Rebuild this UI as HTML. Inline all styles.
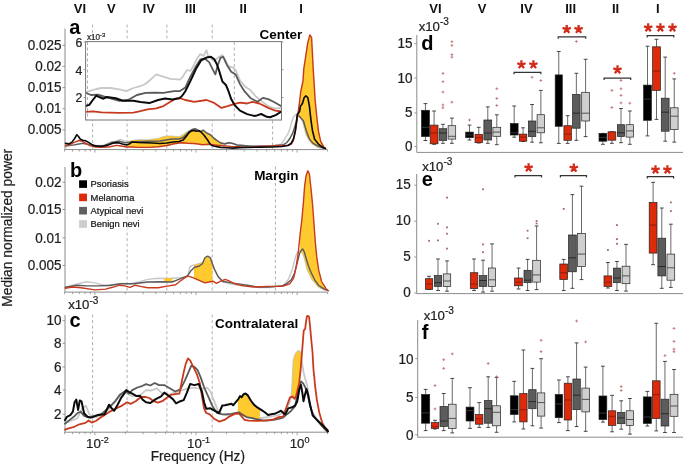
<!DOCTYPE html>
<html><head><meta charset="utf-8"><style>
html,body{margin:0;padding:0;background:#fff;}
svg{display:block;font-family:"Liberation Sans", sans-serif;will-change:transform;}
text{stroke:#1e1e1e;stroke-width:0.22px;}
text[font-weight=bold]{stroke:none;}
</style></head><body>
<svg width="685" height="465" viewBox="0 0 685 465">
<defs><clipPath id="insetclip"><rect x="86.1" y="42.1" width="195" height="77.4"/></clipPath></defs>
<rect width="685" height="465" fill="#fff"/>
<text transform="translate(80.00,12.70) scale(1,1.03)" font-size="13" text-anchor="middle" font-weight="bold" fill="#111" >VI</text>
<text transform="translate(111.30,12.70) scale(1,1.03)" font-size="13" text-anchor="middle" font-weight="bold" fill="#111" >V</text>
<text transform="translate(148.90,12.70) scale(1,1.03)" font-size="13" text-anchor="middle" font-weight="bold" fill="#111" >IV</text>
<text transform="translate(190.50,12.70) scale(1,1.03)" font-size="13" text-anchor="middle" font-weight="bold" fill="#111" >III</text>
<text transform="translate(243.20,12.70) scale(1,1.03)" font-size="13" text-anchor="middle" font-weight="bold" fill="#111" >II</text>
<text transform="translate(301.00,12.70) scale(1,1.03)" font-size="13" text-anchor="middle" font-weight="bold" fill="#111" >I</text>
<text transform="translate(435.50,12.70) scale(1,1.03)" font-size="13" text-anchor="middle" font-weight="bold" fill="#111" >VI</text>
<text transform="translate(482.00,12.70) scale(1,1.03)" font-size="13" text-anchor="middle" font-weight="bold" fill="#111" >V</text>
<text transform="translate(526.50,12.70) scale(1,1.03)" font-size="13" text-anchor="middle" font-weight="bold" fill="#111" >IV</text>
<text transform="translate(570.60,12.70) scale(1,1.03)" font-size="13" text-anchor="middle" font-weight="bold" fill="#111" >III</text>
<text transform="translate(615.50,12.70) scale(1,1.03)" font-size="13" text-anchor="middle" font-weight="bold" fill="#111" >II</text>
<text transform="translate(657.90,12.70) scale(1,1.03)" font-size="13" text-anchor="middle" font-weight="bold" fill="#111" >I</text>
<line x1="64.50" y1="149.60" x2="327.60" y2="149.60" stroke="#8c8c8c" stroke-width="1" />
<line x1="64.50" y1="149.60" x2="64.50" y2="151.60" stroke="#8c8c8c" stroke-width="0.8" />
<line x1="72.50" y1="149.60" x2="72.50" y2="151.60" stroke="#8c8c8c" stroke-width="0.8" />
<line x1="79.27" y1="149.60" x2="79.27" y2="151.60" stroke="#8c8c8c" stroke-width="0.8" />
<line x1="85.13" y1="149.60" x2="85.13" y2="151.60" stroke="#8c8c8c" stroke-width="0.8" />
<line x1="90.31" y1="149.60" x2="90.31" y2="151.60" stroke="#8c8c8c" stroke-width="0.8" />
<line x1="94.93" y1="149.60" x2="94.93" y2="152.60" stroke="#8c8c8c" stroke-width="0.8" />
<line x1="125.37" y1="149.60" x2="125.37" y2="151.60" stroke="#8c8c8c" stroke-width="0.8" />
<line x1="143.17" y1="149.60" x2="143.17" y2="151.60" stroke="#8c8c8c" stroke-width="0.8" />
<line x1="155.80" y1="149.60" x2="155.80" y2="151.60" stroke="#8c8c8c" stroke-width="0.8" />
<line x1="165.60" y1="149.60" x2="165.60" y2="151.60" stroke="#8c8c8c" stroke-width="0.8" />
<line x1="173.60" y1="149.60" x2="173.60" y2="151.60" stroke="#8c8c8c" stroke-width="0.8" />
<line x1="180.37" y1="149.60" x2="180.37" y2="151.60" stroke="#8c8c8c" stroke-width="0.8" />
<line x1="186.23" y1="149.60" x2="186.23" y2="151.60" stroke="#8c8c8c" stroke-width="0.8" />
<line x1="191.41" y1="149.60" x2="191.41" y2="151.60" stroke="#8c8c8c" stroke-width="0.8" />
<line x1="196.03" y1="149.60" x2="196.03" y2="152.60" stroke="#8c8c8c" stroke-width="0.8" />
<line x1="226.47" y1="149.60" x2="226.47" y2="151.60" stroke="#8c8c8c" stroke-width="0.8" />
<line x1="244.27" y1="149.60" x2="244.27" y2="151.60" stroke="#8c8c8c" stroke-width="0.8" />
<line x1="256.90" y1="149.60" x2="256.90" y2="151.60" stroke="#8c8c8c" stroke-width="0.8" />
<line x1="266.70" y1="149.60" x2="266.70" y2="151.60" stroke="#8c8c8c" stroke-width="0.8" />
<line x1="274.70" y1="149.60" x2="274.70" y2="151.60" stroke="#8c8c8c" stroke-width="0.8" />
<line x1="281.47" y1="149.60" x2="281.47" y2="151.60" stroke="#8c8c8c" stroke-width="0.8" />
<line x1="287.33" y1="149.60" x2="287.33" y2="151.60" stroke="#8c8c8c" stroke-width="0.8" />
<line x1="292.51" y1="149.60" x2="292.51" y2="151.60" stroke="#8c8c8c" stroke-width="0.8" />
<line x1="297.13" y1="149.60" x2="297.13" y2="152.60" stroke="#8c8c8c" stroke-width="0.8" />
<line x1="327.57" y1="149.60" x2="327.57" y2="151.60" stroke="#8c8c8c" stroke-width="0.8" />
<line x1="92.60" y1="24.50" x2="92.60" y2="149.60" stroke="#a8a8a8" stroke-width="0.9" stroke-dasharray="3,2.5"/>
<line x1="127.10" y1="24.50" x2="127.10" y2="149.60" stroke="#a8a8a8" stroke-width="0.9" stroke-dasharray="3,2.5"/>
<line x1="166.90" y1="24.50" x2="166.90" y2="149.60" stroke="#a8a8a8" stroke-width="0.9" stroke-dasharray="3,2.5"/>
<line x1="212.20" y1="24.50" x2="212.20" y2="149.60" stroke="#a8a8a8" stroke-width="0.9" stroke-dasharray="3,2.5"/>
<line x1="272.60" y1="120.50" x2="272.60" y2="149.60" stroke="#a8a8a8" stroke-width="0.9" stroke-dasharray="3,2.5"/>
<line x1="65.00" y1="28.50" x2="65.00" y2="149.60" stroke="#8c8c8c" stroke-width="1" />
<line x1="62.50" y1="45.40" x2="65.00" y2="45.40" stroke="#8c8c8c" stroke-width="0.9" />
<text transform="translate(61.50,50.00) scale(1,1.07)" font-size="13.5" text-anchor="end" font-weight="normal" fill="#1e1e1e" >0.025</text>
<line x1="62.50" y1="66.30" x2="65.00" y2="66.30" stroke="#8c8c8c" stroke-width="0.9" />
<text transform="translate(61.50,70.90) scale(1,1.07)" font-size="13.5" text-anchor="end" font-weight="normal" fill="#1e1e1e" >0.02</text>
<line x1="62.50" y1="87.60" x2="65.00" y2="87.60" stroke="#8c8c8c" stroke-width="0.9" />
<text transform="translate(61.50,92.20) scale(1,1.07)" font-size="13.5" text-anchor="end" font-weight="normal" fill="#1e1e1e" >0.015</text>
<line x1="62.50" y1="108.70" x2="65.00" y2="108.70" stroke="#8c8c8c" stroke-width="0.9" />
<text transform="translate(61.50,113.30) scale(1,1.07)" font-size="13.5" text-anchor="end" font-weight="normal" fill="#1e1e1e" >0.01</text>
<line x1="62.50" y1="129.80" x2="65.00" y2="129.80" stroke="#8c8c8c" stroke-width="0.9" />
<text transform="translate(61.50,134.40) scale(1,1.07)" font-size="13.5" text-anchor="end" font-weight="normal" fill="#1e1e1e" >0.005</text>
<line x1="64.50" y1="292.10" x2="327.60" y2="292.10" stroke="#8c8c8c" stroke-width="1" />
<line x1="64.50" y1="292.10" x2="64.50" y2="294.10" stroke="#8c8c8c" stroke-width="0.8" />
<line x1="72.50" y1="292.10" x2="72.50" y2="294.10" stroke="#8c8c8c" stroke-width="0.8" />
<line x1="79.27" y1="292.10" x2="79.27" y2="294.10" stroke="#8c8c8c" stroke-width="0.8" />
<line x1="85.13" y1="292.10" x2="85.13" y2="294.10" stroke="#8c8c8c" stroke-width="0.8" />
<line x1="90.31" y1="292.10" x2="90.31" y2="294.10" stroke="#8c8c8c" stroke-width="0.8" />
<line x1="94.93" y1="292.10" x2="94.93" y2="295.10" stroke="#8c8c8c" stroke-width="0.8" />
<line x1="125.37" y1="292.10" x2="125.37" y2="294.10" stroke="#8c8c8c" stroke-width="0.8" />
<line x1="143.17" y1="292.10" x2="143.17" y2="294.10" stroke="#8c8c8c" stroke-width="0.8" />
<line x1="155.80" y1="292.10" x2="155.80" y2="294.10" stroke="#8c8c8c" stroke-width="0.8" />
<line x1="165.60" y1="292.10" x2="165.60" y2="294.10" stroke="#8c8c8c" stroke-width="0.8" />
<line x1="173.60" y1="292.10" x2="173.60" y2="294.10" stroke="#8c8c8c" stroke-width="0.8" />
<line x1="180.37" y1="292.10" x2="180.37" y2="294.10" stroke="#8c8c8c" stroke-width="0.8" />
<line x1="186.23" y1="292.10" x2="186.23" y2="294.10" stroke="#8c8c8c" stroke-width="0.8" />
<line x1="191.41" y1="292.10" x2="191.41" y2="294.10" stroke="#8c8c8c" stroke-width="0.8" />
<line x1="196.03" y1="292.10" x2="196.03" y2="295.10" stroke="#8c8c8c" stroke-width="0.8" />
<line x1="226.47" y1="292.10" x2="226.47" y2="294.10" stroke="#8c8c8c" stroke-width="0.8" />
<line x1="244.27" y1="292.10" x2="244.27" y2="294.10" stroke="#8c8c8c" stroke-width="0.8" />
<line x1="256.90" y1="292.10" x2="256.90" y2="294.10" stroke="#8c8c8c" stroke-width="0.8" />
<line x1="266.70" y1="292.10" x2="266.70" y2="294.10" stroke="#8c8c8c" stroke-width="0.8" />
<line x1="274.70" y1="292.10" x2="274.70" y2="294.10" stroke="#8c8c8c" stroke-width="0.8" />
<line x1="281.47" y1="292.10" x2="281.47" y2="294.10" stroke="#8c8c8c" stroke-width="0.8" />
<line x1="287.33" y1="292.10" x2="287.33" y2="294.10" stroke="#8c8c8c" stroke-width="0.8" />
<line x1="292.51" y1="292.10" x2="292.51" y2="294.10" stroke="#8c8c8c" stroke-width="0.8" />
<line x1="297.13" y1="292.10" x2="297.13" y2="295.10" stroke="#8c8c8c" stroke-width="0.8" />
<line x1="327.57" y1="292.10" x2="327.57" y2="294.10" stroke="#8c8c8c" stroke-width="0.8" />
<line x1="127.10" y1="166.50" x2="127.10" y2="292.10" stroke="#a8a8a8" stroke-width="0.9" stroke-dasharray="3,2.5"/>
<line x1="166.90" y1="166.50" x2="166.90" y2="292.10" stroke="#a8a8a8" stroke-width="0.9" stroke-dasharray="3,2.5"/>
<line x1="212.20" y1="166.50" x2="212.20" y2="292.10" stroke="#a8a8a8" stroke-width="0.9" stroke-dasharray="3,2.5"/>
<line x1="275.40" y1="166.50" x2="275.40" y2="292.10" stroke="#a8a8a8" stroke-width="0.9" stroke-dasharray="3,2.5"/>
<line x1="65.00" y1="167.00" x2="65.00" y2="292.10" stroke="#8c8c8c" stroke-width="1" />
<line x1="62.50" y1="182.20" x2="65.00" y2="182.20" stroke="#8c8c8c" stroke-width="0.9" />
<text transform="translate(61.50,186.80) scale(1,1.07)" font-size="13.5" text-anchor="end" font-weight="normal" fill="#1e1e1e" >0.02</text>
<line x1="62.50" y1="209.50" x2="65.00" y2="209.50" stroke="#8c8c8c" stroke-width="0.9" />
<text transform="translate(61.50,214.10) scale(1,1.07)" font-size="13.5" text-anchor="end" font-weight="normal" fill="#1e1e1e" >0.015</text>
<line x1="62.50" y1="237.90" x2="65.00" y2="237.90" stroke="#8c8c8c" stroke-width="0.9" />
<text transform="translate(61.50,242.50) scale(1,1.07)" font-size="13.5" text-anchor="end" font-weight="normal" fill="#1e1e1e" >0.01</text>
<line x1="62.50" y1="265.40" x2="65.00" y2="265.40" stroke="#8c8c8c" stroke-width="0.9" />
<text transform="translate(61.50,270.00) scale(1,1.07)" font-size="13.5" text-anchor="end" font-weight="normal" fill="#1e1e1e" >0.005</text>
<line x1="64.50" y1="432.20" x2="327.60" y2="432.20" stroke="#8c8c8c" stroke-width="1" />
<line x1="64.50" y1="432.20" x2="64.50" y2="434.20" stroke="#8c8c8c" stroke-width="0.8" />
<line x1="72.50" y1="432.20" x2="72.50" y2="434.20" stroke="#8c8c8c" stroke-width="0.8" />
<line x1="79.27" y1="432.20" x2="79.27" y2="434.20" stroke="#8c8c8c" stroke-width="0.8" />
<line x1="85.13" y1="432.20" x2="85.13" y2="434.20" stroke="#8c8c8c" stroke-width="0.8" />
<line x1="90.31" y1="432.20" x2="90.31" y2="434.20" stroke="#8c8c8c" stroke-width="0.8" />
<line x1="94.93" y1="432.20" x2="94.93" y2="435.20" stroke="#8c8c8c" stroke-width="0.8" />
<line x1="125.37" y1="432.20" x2="125.37" y2="434.20" stroke="#8c8c8c" stroke-width="0.8" />
<line x1="143.17" y1="432.20" x2="143.17" y2="434.20" stroke="#8c8c8c" stroke-width="0.8" />
<line x1="155.80" y1="432.20" x2="155.80" y2="434.20" stroke="#8c8c8c" stroke-width="0.8" />
<line x1="165.60" y1="432.20" x2="165.60" y2="434.20" stroke="#8c8c8c" stroke-width="0.8" />
<line x1="173.60" y1="432.20" x2="173.60" y2="434.20" stroke="#8c8c8c" stroke-width="0.8" />
<line x1="180.37" y1="432.20" x2="180.37" y2="434.20" stroke="#8c8c8c" stroke-width="0.8" />
<line x1="186.23" y1="432.20" x2="186.23" y2="434.20" stroke="#8c8c8c" stroke-width="0.8" />
<line x1="191.41" y1="432.20" x2="191.41" y2="434.20" stroke="#8c8c8c" stroke-width="0.8" />
<line x1="196.03" y1="432.20" x2="196.03" y2="435.20" stroke="#8c8c8c" stroke-width="0.8" />
<line x1="226.47" y1="432.20" x2="226.47" y2="434.20" stroke="#8c8c8c" stroke-width="0.8" />
<line x1="244.27" y1="432.20" x2="244.27" y2="434.20" stroke="#8c8c8c" stroke-width="0.8" />
<line x1="256.90" y1="432.20" x2="256.90" y2="434.20" stroke="#8c8c8c" stroke-width="0.8" />
<line x1="266.70" y1="432.20" x2="266.70" y2="434.20" stroke="#8c8c8c" stroke-width="0.8" />
<line x1="274.70" y1="432.20" x2="274.70" y2="434.20" stroke="#8c8c8c" stroke-width="0.8" />
<line x1="281.47" y1="432.20" x2="281.47" y2="434.20" stroke="#8c8c8c" stroke-width="0.8" />
<line x1="287.33" y1="432.20" x2="287.33" y2="434.20" stroke="#8c8c8c" stroke-width="0.8" />
<line x1="292.51" y1="432.20" x2="292.51" y2="434.20" stroke="#8c8c8c" stroke-width="0.8" />
<line x1="297.13" y1="432.20" x2="297.13" y2="435.20" stroke="#8c8c8c" stroke-width="0.8" />
<line x1="327.57" y1="432.20" x2="327.57" y2="434.20" stroke="#8c8c8c" stroke-width="0.8" />
<line x1="92.60" y1="314.60" x2="92.60" y2="432.20" stroke="#a8a8a8" stroke-width="0.9" stroke-dasharray="3,2.5"/>
<line x1="127.10" y1="314.60" x2="127.10" y2="432.20" stroke="#a8a8a8" stroke-width="0.9" stroke-dasharray="3,2.5"/>
<line x1="166.90" y1="314.60" x2="166.90" y2="432.20" stroke="#a8a8a8" stroke-width="0.9" stroke-dasharray="3,2.5"/>
<line x1="212.20" y1="314.60" x2="212.20" y2="432.20" stroke="#a8a8a8" stroke-width="0.9" stroke-dasharray="3,2.5"/>
<line x1="65.00" y1="315.00" x2="65.00" y2="432.20" stroke="#8c8c8c" stroke-width="1" />
<line x1="62.50" y1="320.70" x2="65.00" y2="320.70" stroke="#8c8c8c" stroke-width="0.9" />
<text transform="translate(61.50,325.30) scale(1,1.07)" font-size="13.5" text-anchor="end" font-weight="normal" fill="#1e1e1e" >10</text>
<line x1="62.50" y1="343.30" x2="65.00" y2="343.30" stroke="#8c8c8c" stroke-width="0.9" />
<text transform="translate(61.50,347.90) scale(1,1.07)" font-size="13.5" text-anchor="end" font-weight="normal" fill="#1e1e1e" >8</text>
<line x1="62.50" y1="367.00" x2="65.00" y2="367.00" stroke="#8c8c8c" stroke-width="0.9" />
<text transform="translate(61.50,371.60) scale(1,1.07)" font-size="13.5" text-anchor="end" font-weight="normal" fill="#1e1e1e" >6</text>
<line x1="62.50" y1="390.00" x2="65.00" y2="390.00" stroke="#8c8c8c" stroke-width="0.9" />
<text transform="translate(61.50,394.60) scale(1,1.07)" font-size="13.5" text-anchor="end" font-weight="normal" fill="#1e1e1e" >4</text>
<line x1="62.50" y1="414.20" x2="65.00" y2="414.20" stroke="#8c8c8c" stroke-width="0.9" />
<text transform="translate(61.50,418.80) scale(1,1.07)" font-size="13.5" text-anchor="end" font-weight="normal" fill="#1e1e1e" >2</text>
<text x="97.43" y="448.40" font-size="13.3" text-anchor="middle" fill="#1e1e1e">10<tspan font-size="9" dy="-5.3">-2</tspan></text>
<text x="198.53" y="448.40" font-size="13.3" text-anchor="middle" fill="#1e1e1e">10<tspan font-size="9" dy="-5.3">-1</tspan></text>
<text x="299.63" y="448.40" font-size="13.3" text-anchor="middle" fill="#1e1e1e">10<tspan font-size="9" dy="-5.3">0</tspan></text>
<text transform="translate(197.80,460.70) scale(1,1.03)" font-size="13.7" text-anchor="middle" font-weight="normal" fill="#1e1e1e" >Frequency (Hz)</text>
<text x="0" y="0" font-size="13.8" text-anchor="middle" fill="#1e1e1e" transform="translate(12.4,227.8) rotate(-90)">Median normalized power</text>
<text x="69.20" y="33.70" font-size="20" text-anchor="start" font-weight="bold" fill="#000" >a</text>
<text x="70.10" y="176.80" font-size="20" text-anchor="start" font-weight="bold" fill="#000" >b</text>
<text x="69.40" y="326.90" font-size="20" text-anchor="start" font-weight="bold" fill="#000" >c</text>
<text x="302.20" y="38.80" font-size="13.5" text-anchor="end" font-weight="bold" fill="#000" >Center</text>
<text x="298.40" y="179.90" font-size="13.5" text-anchor="end" font-weight="bold" fill="#000" >Margin</text>
<text x="298.30" y="327.80" font-size="13.5" text-anchor="end" font-weight="bold" fill="#000" >Contralateral</text>
<text x="68.20" y="309.40" font-size="13.2" fill="#1e1e1e">x10<tspan font-size="10" dy="-5.6">-3</tspan></text>
<rect x="76" y="177" width="76" height="54" fill="#fff" fill-opacity="0.55"/>
<rect x="79.1" y="180.30" width="7.9" height="7.6" fill="#000"/>
<text x="90.60" y="187.20" font-size="9.4" text-anchor="start" font-weight="normal" fill="#111" >Psoriasis</text>
<rect x="79.1" y="193.60" width="7.9" height="7.6" fill="#dc2a0a"/>
<text x="90.60" y="200.50" font-size="9.4" text-anchor="start" font-weight="normal" fill="#111" >Melanoma</text>
<rect x="79.1" y="206.90" width="7.9" height="7.6" fill="#5f5f5f"/>
<text x="90.60" y="213.80" font-size="9.4" text-anchor="start" font-weight="normal" fill="#111" >Atypical nevi</text>
<rect x="79.1" y="220.20" width="7.9" height="7.6" fill="#cdcdcd"/>
<text x="90.60" y="227.10" font-size="9.4" text-anchor="start" font-weight="normal" fill="#111" >Benign nevi</text>
<path d="M65.6,147.0 L72.2,145.4 L78.3,143.9 L84.5,142.9 L89.6,143.9 L95.7,145.4 L102.9,145.4 L107.0,143.9 L111.0,141.9 L116.2,141.3 L120.2,139.3 L125.4,141.3 L128.0,141.5 L136.2,139.9 L148.4,139.9 L158.7,138.4 L164.8,136.4 L170.9,136.1 L179.1,136.9 L183.2,134.8 L188.3,131.2 L192.4,129.2 L195.4,128.7 L197.7,130.2 L200.2,131.5 L203.3,130.0 L206.3,132.5 L210.4,134.5 L213.5,137.5 L216.6,140.0 L220.7,142.5 L224.7,143.5 L228.8,142.5 L232.9,143.5 L237.0,145.0 L243.1,145.5 L251.3,146.1 L270.0,146.0 L281.3,144.1 L284.6,139.1 L288.0,133.5 L290.2,127.9 L291.9,121.2 L293.6,116.8 L295.8,114.5 L298.0,114.0 L300.3,116.5 L302.5,121.0 L304.5,128.0 L306.2,134.8 L308.5,139.0 L311.8,143.6 L317.4,147.0 L322.0,148.2 L325.5,148.6" fill="none" stroke="#c8c8c8" stroke-width="1.4449999999999998" stroke-linejoin="round" stroke-linecap="round"/>
<path d="M65.3,287.7 L74.0,284.7 L86.3,281.7 L95.0,282.9 L103.8,285.2 L112.6,284.7 L121.3,283.4 L130.1,283.8 L138.8,282.0 L147.6,279.4 L158.1,278.2 L168.6,278.5 L180.0,277.7 L187.5,276.8 L190.1,266.3 L196.3,264.5 L203.3,262.4 L208.5,264.5 L212.9,266.3 L217.3,275.0 L222.6,282.0 L231.3,284.0 L240.0,285.5 L250.0,286.5 L260.0,287.5 L270.0,287.5 L280.0,286.0 L283.2,285.5 L288.1,279.8 L292.1,270.2 L295.3,257.3 L297.7,251.6 L300.5,251.0 L302.5,253.0 L304.2,257.3 L307.4,270.2 L312.3,279.8 L318.7,287.1 L323.5,289.5 L327.6,290.8" fill="none" stroke="#c8c8c8" stroke-width="1.4449999999999998" stroke-linejoin="round" stroke-linecap="round"/>
<path d="M65.0,422.8 L77.2,418.5 L82.4,408.2 L85.8,405.6 L89.3,414.2 L92.7,417.6 L101.3,415.9 L108.2,409.9 L116.8,399.6 L123.7,391.8 L132.3,396.1 L139.2,396.1 L146.0,390.1 L151.4,390.5 L156.8,388.3 L162.2,393.3 L168.6,394.8 L175.1,392.6 L181.5,390.5 L188.0,388.3 L194.4,387.7 L200.8,389.0 L207.3,387.7 L210.5,391.5 L213.7,400.1 L218.0,410.9 L222.3,414.7 L227.7,415.2 L235.0,414.1 L238.6,414.2 L247.2,416.3 L258.0,418.5 L268.7,417.0 L279.5,414.8 L286.0,410.0 L289.0,404.0 L291.3,397.0 L292.3,385.0 L293.0,370.0 L293.6,360.0 L295.5,354.0 L297.5,351.5 L298.8,350.8 L300.0,352.0 L301.0,356.0 L302.2,364.0 L303.5,372.0 L305.0,378.0 L307.1,385.1 L309.4,400.1 L311.6,410.7 L316.2,418.2 L322.2,425.8 L327.5,431.0" fill="none" stroke="#c8c8c8" stroke-width="1.785" stroke-linejoin="round" stroke-linecap="round"/>
<g opacity="0.92"><path d="M127.5,141.5 L128.0,141.5 L128.5,141.4 L129.0,141.3 L129.5,141.2 L130.0,141.1 L130.5,141.0 L131.0,140.9 L131.5,140.8 L132.0,140.7 L132.5,140.6 L133.0,140.5 L133.5,140.4 L134.0,140.3 L134.5,140.2 L135.0,140.1 L135.5,140.0 L136.0,139.9 L136.5,139.9 L137.0,139.9 L137.5,139.9 L138.0,139.9 L138.5,139.9 L139.0,139.9 L139.5,139.9 L140.0,139.9 L140.5,139.9 L141.0,139.9 L141.5,139.9 L142.0,139.9 L142.5,139.9 L143.0,139.9 L143.5,139.9 L144.0,139.9 L144.5,139.9 L145.0,139.9 L145.5,139.9 L146.0,139.9 L146.5,139.9 L147.0,139.9 L147.5,139.9 L148.0,139.9 L148.5,139.9 L149.0,139.8 L149.5,139.7 L150.0,139.7 L150.5,139.6 L151.0,139.5 L151.5,139.4 L152.0,139.4 L152.5,139.3 L153.0,139.2 L153.5,139.2 L154.0,139.1 L154.5,139.0 L155.0,138.9 L155.5,138.9 L156.0,138.8 L156.5,138.7 L157.0,138.6 L157.5,138.6 L158.0,138.5 L158.5,138.4 L159.0,138.3 L159.5,138.1 L160.0,138.0 L160.5,137.8 L161.0,137.6 L161.5,137.5 L162.0,137.3 L162.5,137.2 L163.0,137.0 L163.5,136.8 L164.0,136.7 L164.5,136.5 L165.0,136.4 L165.5,136.4 L166.0,136.3 L166.5,136.3 L167.0,136.3 L167.5,136.3 L168.0,136.2 L168.5,136.2 L169.0,136.2 L169.5,136.2 L170.0,136.1 L170.5,136.1 L171.0,136.1 L171.5,136.2 L172.0,136.2 L172.5,136.3 L173.0,136.3 L173.5,136.4 L174.0,136.4 L174.5,136.5 L175.0,136.5 L175.5,136.5 L176.0,136.6 L176.5,136.6 L177.0,136.7 L177.5,136.7 L178.0,136.8 L178.5,136.8 L179.0,136.9 L179.5,136.7 L180.0,136.4 L180.5,136.2 L181.0,135.9 L181.5,135.7 L182.0,135.4 L182.5,135.2 L183.0,134.9 L183.5,134.6 L184.0,134.2 L184.5,133.9 L185.0,133.5 L185.5,133.2 L186.0,132.8 L186.5,132.5 L187.0,132.1 L187.5,131.8 L188.0,131.4 L188.5,131.1 L189.0,130.9 L189.5,130.6 L190.0,130.4 L190.5,130.1 L191.0,129.9 L191.5,129.6 L192.0,129.4 L192.5,129.2 L193.0,129.1 L193.5,129.0 L194.0,128.9 L194.5,128.8 L195.0,128.7 L195.5,128.8 L196.0,129.1 L196.5,129.4 L197.0,129.7 L197.5,130.1 L198.0,130.4 L198.5,130.6 L199.0,130.9 L199.5,131.1 L200.0,131.4 L200.5,131.4 L201.0,131.1 L201.5,130.9 L202.0,130.6 L202.5,130.4 L203.0,130.1 L203.5,130.2 L204.0,130.6 L204.5,131.0 L205.0,131.4 L205.5,131.8 L206.0,132.2 L206.5,132.6 L207.0,132.8 L207.5,133.1 L208.0,133.3 L208.5,133.6 L209.0,133.8 L209.5,134.1 L210.0,134.3 L210.5,134.6 L211.0,135.1 L211.5,135.6 L212.0,136.0 L212.5,136.5 L213.0,137.0 L213.5,137.5 L214.0,137.9 L214.5,138.3 L215.0,138.7 L215.5,139.1 L216.0,139.5 L216.5,139.9 L217.0,140.2 L217.5,140.5 L218.0,140.9 L218.5,141.2 L219.0,141.5 L219.5,141.8 L220.0,142.1 L220.5,142.4 L221.0,142.6 L221.5,142.7 L222.0,142.8 L222.0,145.7 L221.5,145.6 L221.0,145.6 L220.5,145.5 L220.0,145.5 L219.5,145.5 L219.0,145.4 L218.5,145.4 L218.0,145.3 L217.5,145.3 L217.0,145.2 L216.5,145.2 L216.0,145.1 L215.5,145.1 L215.0,145.0 L214.5,144.9 L214.0,144.9 L213.5,144.8 L213.0,144.8 L212.5,144.7 L212.0,144.7 L211.5,144.6 L211.0,144.6 L210.5,144.5 L210.0,144.5 L209.5,144.4 L209.0,144.4 L208.5,144.3 L208.0,144.3 L207.5,144.4 L207.0,144.4 L206.5,144.4 L206.0,144.5 L205.5,144.5 L205.0,144.5 L204.5,144.6 L204.0,144.6 L203.5,144.6 L203.0,144.7 L202.5,144.7 L202.0,144.6 L201.5,144.6 L201.0,144.5 L200.5,144.4 L200.0,144.3 L199.5,144.2 L199.0,144.1 L198.5,144.1 L198.0,144.0 L197.5,143.9 L197.0,143.9 L196.5,143.8 L196.0,143.8 L195.5,143.7 L195.0,143.7 L194.5,143.6 L194.0,143.6 L193.5,143.5 L193.0,143.5 L192.5,143.5 L192.0,143.5 L191.5,143.4 L191.0,143.4 L190.5,143.4 L190.0,143.4 L189.5,143.4 L189.0,143.4 L188.5,143.3 L188.0,143.3 L187.5,143.3 L187.0,143.3 L186.5,143.2 L186.0,143.1 L185.5,143.0 L185.0,143.0 L184.5,142.9 L184.0,142.8 L183.5,142.7 L183.0,142.7 L182.5,142.8 L182.0,142.8 L181.5,142.8 L181.0,142.9 L180.5,142.9 L180.0,142.9 L179.5,143.0 L179.0,143.0 L178.5,143.1 L178.0,143.2 L177.5,143.3 L177.0,143.3 L176.5,143.4 L176.0,143.5 L175.5,143.6 L175.0,143.7 L174.5,143.8 L174.0,143.8 L173.5,143.9 L173.0,144.0 L172.5,144.1 L172.0,144.2 L171.5,144.4 L171.0,144.5 L170.5,144.6 L170.0,144.7 L169.5,144.8 L169.0,145.0 L168.5,145.1 L168.0,145.2 L167.5,145.3 L167.0,145.5 L166.5,145.5 L166.0,145.6 L165.5,145.7 L165.0,145.8 L164.5,145.9 L164.0,145.9 L163.5,146.0 L163.0,146.1 L162.5,146.2 L162.0,146.3 L161.5,146.4 L161.0,146.4 L160.5,146.5 L160.0,146.6 L159.5,146.7 L159.0,146.8 L158.5,146.8 L158.0,146.8 L157.5,146.9 L157.0,146.9 L156.5,146.9 L156.0,147.0 L155.5,147.0 L155.0,147.0 L154.5,147.0 L154.0,147.1 L153.5,147.1 L153.0,147.1 L152.5,147.2 L152.0,147.2 L151.5,147.2 L151.0,147.2 L150.5,147.3 L150.0,147.3 L149.5,147.3 L149.0,147.4 L148.5,147.4 L148.0,147.4 L147.5,147.4 L147.0,147.4 L146.5,147.4 L146.0,147.4 L145.5,147.4 L145.0,147.4 L144.5,147.4 L144.0,147.4 L143.5,147.4 L143.0,147.4 L142.5,147.4 L142.0,147.4 L141.5,147.4 L141.0,147.4 L140.5,147.4 L140.0,147.4 L139.5,147.4 L139.0,147.4 L138.5,147.4 L138.0,147.4 L137.5,147.4 L137.0,147.3 L136.5,147.3 L136.0,147.3 L135.5,147.2 L135.0,147.2 L134.5,147.2 L134.0,147.1 L133.5,147.1 L133.0,147.1 L132.5,147.0 L132.0,147.0 L131.5,147.0 L131.0,147.0 L130.5,147.0 L130.0,147.0 L129.5,147.0 L129.0,147.0 L128.5,147.0 L128.0,147.0 L127.5,147.0 Z" fill="#ffc51f" stroke="none"/><path d="M298.0,113.4 L299.0,106.0 L299.8,100.0 L300.6,92.5 L301.5,88.0 L302.9,81.5 L303.8,68.7 L305.8,55.8 L307.7,42.9 L309.9,34.9 L311.6,37.7 L312.2,49.3 L313.2,68.7 L314.3,86.0 L315.1,100.0 L316.8,116.8 L318.5,131.3 L320.7,141.4 L323.5,146.4 L325.5,148.4 L325.5,148.6 L322.0,148.2 L317.4,147.0 L311.8,143.6 L308.5,139.0 L306.2,134.8 L304.5,128.0 L302.5,121.0 L300.3,116.5 L298.0,114.0 Z" fill="#ffc51f" stroke="none"/><path d="M194.0,265.2 L194.5,265.0 L195.0,264.9 L195.5,264.7 L196.0,264.6 L196.5,264.4 L197.0,264.3 L197.5,264.1 L198.0,264.0 L198.5,263.8 L199.0,263.7 L199.5,263.5 L200.0,263.4 L200.5,263.2 L201.0,263.1 L201.5,262.9 L202.0,262.8 L202.5,262.6 L203.0,262.3 L203.5,261.1 L204.0,259.9 L204.5,258.7 L205.0,257.5 L205.5,257.2 L206.0,257.0 L206.5,256.7 L207.0,256.5 L207.5,256.2 L208.0,256.3 L208.5,256.5 L209.0,256.8 L209.5,257.1 L210.0,257.3 L210.5,258.1 L211.0,259.7 L211.5,261.2 L212.0,262.8 L212.5,264.1 L212.5,281.3 L212.0,281.4 L211.5,281.5 L211.0,281.6 L210.5,281.7 L210.0,281.8 L209.5,281.9 L209.0,282.0 L208.5,282.1 L208.0,282.2 L207.5,282.3 L207.0,282.4 L206.5,282.6 L206.0,282.7 L205.5,282.8 L205.0,282.9 L204.5,282.7 L204.0,282.5 L203.5,282.3 L203.0,282.0 L202.5,281.8 L202.0,281.6 L201.5,281.4 L201.0,281.2 L200.5,281.0 L200.0,280.8 L199.5,280.5 L199.0,280.3 L198.5,280.1 L198.0,279.9 L197.5,279.7 L197.0,279.5 L196.5,279.3 L196.0,279.1 L195.5,278.8 L195.0,278.6 L194.5,278.4 L194.0,278.2 Z" fill="#ffc51f" stroke="none"/><path d="M164.2,278.3 L172.5,277.9 L172.5,282.2 L164.2,281.6 Z" fill="#ffc51f" stroke="none"/><path d="M299.4,241.1 L300.6,230.0 L301.6,222.2 L303.4,202.6 L304.6,186.1 L306.1,175.5 L307.9,170.7 L309.4,174.0 L310.9,187.6 L312.4,202.6 L313.9,222.2 L315.2,241.1 L316.8,257.3 L318.7,270.2 L321.6,281.5 L326.0,288.7 L328.4,290.8 L327.6,290.8 L323.5,289.5 L318.7,287.1 L312.3,279.8 L307.4,270.2 L304.2,257.3 L302.5,253.0 L300.5,251.0 Z" fill="#ffc51f" stroke="none"/><path d="M237.9,399.3 L238.5,398.8 L240.1,396.1 L241.7,397.2 L243.3,394.5 L245.5,393.5 L247.6,395.1 L250.8,400.5 L254.1,404.8 L257.3,407.4 L260.0,409.7 L260.0,419.6 L257.3,419.3 L251.9,418.2 L246.5,417.1 L242.2,414.4 L239.0,412.3 L237.9,412.5 Z" fill="#ffc51f" stroke="none"/><path d="M291.6,396.0 L292.3,385.0 L293.0,370.0 L293.6,360.0 L295.5,354.0 L297.5,351.5 L298.8,350.8 L300.0,352.0 L301.8,355.0 L300.6,370.2 L299.1,383.7 L297.6,389.8 L296.1,395.8 L294.6,398.8 Z" fill="#ffc51f" stroke="none"/></g>
<path d="M65.6,145.4 L74.3,144.9 L82.4,143.4 L90.6,144.9 L97.8,146.0 L104.9,145.4 L112.1,142.4 L119.2,141.3 L125.4,142.9 L132.0,141.9 L140.0,141.5 L150.0,141.3 L160.0,141.0 L166.0,140.0 L172.0,139.0 L179.0,139.0 L183.0,137.5 L186.2,134.5 L189.3,131.5 L192.0,129.7 L195.1,128.7 L197.7,130.2 L200.2,131.8 L203.3,130.2 L206.3,132.8 L210.4,134.8 L213.5,137.9 L216.6,140.4 L220.7,143.0 L224.7,144.0 L228.8,142.7 L232.9,143.5 L237.0,145.0 L243.1,145.5 L251.3,146.1 L260.0,146.1 L272.0,146.0 L283.5,144.7 L286.9,142.5 L290.2,138.0 L293.0,132.4 L294.7,126.8 L296.9,120.1 L297.6,115.1 L299.5,116.5 L301.2,118.5 L303.4,120.7 L305.1,126.8 L307.3,133.6 L309.5,139.1 L312.9,143.1 L317.4,145.9 L321.8,147.5 L325.5,148.4" fill="none" stroke="#5a5a5a" stroke-width="1.4449999999999998" stroke-linejoin="round" stroke-linecap="round"/>
<path d="M65.6,146.0 L70.2,144.4 L74.3,142.4 L78.9,140.5 L82.4,141.3 L86.5,143.9 L90.6,145.9 L95.7,147.0 L102.9,147.3 L110.0,146.7 L116.2,145.4 L121.3,146.0 L126.4,147.0 L132.0,147.0 L138.2,147.4 L148.4,147.4 L158.7,146.8 L166.8,145.5 L173.0,144.0 L179.1,143.0 L183.2,142.7 L187.3,143.3 L193.4,143.5 L198.2,144.0 L202.3,144.7 L208.4,144.3 L212.5,144.7 L217.6,145.3 L223.7,145.8 L230.9,146.4 L238.0,146.8 L246.2,147.4 L261.2,146.4 L272.3,146.0 L281.3,145.6 L288.0,145.3 L291.3,144.1 L293.0,141.3 L294.1,136.9 L295.3,131.3 L296.4,124.6 L297.2,119.0 L298.0,113.4 L299.0,106.0 L299.8,100.0 L300.6,92.5 L301.5,88.0 L302.9,81.5 L303.8,68.7 L305.8,55.8 L307.7,42.9 L309.9,34.9 L311.6,37.7 L312.2,49.3 L313.2,68.7 L314.3,86.0 L315.1,100.0 L316.8,116.8 L318.5,131.3 L320.7,141.4 L323.5,146.4 L325.5,148.4" fill="none" stroke="#c83a1e" stroke-width="1.4449999999999998" stroke-linejoin="round" stroke-linecap="round"/>
<path d="M65.6,143.4 L69.2,143.9 L72.2,141.9 L74.8,138.3 L76.8,134.7 L78.3,136.2 L80.4,139.3 L82.9,140.3 L85.5,140.8 L88.6,142.4 L91.6,144.4 L94.7,145.9 L100.8,146.5 L107.0,145.4 L112.1,143.4 L116.2,142.6 L119.2,142.9 L123.3,144.2 L126.4,144.9 L129.4,143.9 L132.1,142.0 L138.2,142.5 L145.4,142.7 L152.5,143.0 L159.7,143.5 L166.8,143.0 L173.0,142.0 L179.1,141.5 L183.2,139.9 L186.2,136.4 L189.3,132.3 L191.9,130.7 L194.1,130.4 L196.1,131.2 L199.2,130.6 L201.5,132.5 L203.9,135.0 L205.5,137.2 L207.6,140.0 L209.4,143.0 L211.5,145.2 L214.5,146.3 L220.7,147.4 L226.8,147.8 L232.9,148.1 L239.0,147.6 L246.2,147.4 L260.0,147.1 L272.0,147.0 L282.0,146.5 L288.0,145.5 L291.0,143.5 L293.5,139.0 L295.5,130.0 L296.5,121.0 L297.3,114.4 L299.6,111.4 L300.5,106.0 L301.8,104.5 L302.6,103.0 L304.1,97.8 L305.9,95.8 L307.9,97.8 L309.4,106.1 L310.9,119.6 L312.4,130.2 L314.6,139.2 L319.0,144.7 L323.0,147.5 L325.3,148.4" fill="none" stroke="#0a0a0a" stroke-width="1.615" stroke-linejoin="round" stroke-linecap="round"/>
<path d="M65.3,287.3 L77.5,285.2 L86.3,285.9 L98.5,285.9 L109.0,285.5 L121.3,283.8 L133.6,283.8 L147.6,282.0 L161.6,281.7 L172.1,282.0 L178.8,279.4 L187.5,275.9 L191.0,270.7 L194.5,267.2 L198.9,266.3 L202.4,263.7 L205.0,257.5 L207.7,256.1 L210.3,257.5 L212.0,262.8 L214.7,269.8 L218.2,276.8 L222.6,281.2 L231.3,282.9 L240.1,284.1 L248.8,285.5 L257.6,287.0 L268.1,287.0 L282.1,285.9 L286.5,283.9 L291.3,279.8 L294.5,273.4 L297.4,262.1 L299.4,254.0 L301.0,250.5 L302.6,248.9 L304.2,251.6 L305.8,257.3 L308.2,265.3 L311.5,273.4 L314.7,279.8 L318.7,285.5 L323.5,288.7 L327.6,290.3" fill="none" stroke="#5a5a5a" stroke-width="1.394" stroke-linejoin="round" stroke-linecap="round"/>
<path d="M65.3,288.2 L72.3,287.0 L81.0,287.7 L95.0,289.9 L105.5,289.1 L112.6,287.3 L119.6,285.2 L124.8,285.9 L130.1,287.3 L135.3,285.2 L140.6,286.4 L147.6,287.7 L158.1,287.7 L168.6,285.9 L175.6,284.7 L180.0,281.2 L187.5,275.9 L192.8,277.7 L198.0,279.9 L205.0,282.9 L210.3,281.7 L212.9,281.2 L216.4,283.4 L220.8,281.2 L225.2,279.4 L229.6,281.2 L234.8,283.8 L243.6,285.9 L254.1,287.0 L268.1,286.4 L280.0,286.3 L283.2,286.0 L289.7,283.9 L293.7,278.2 L296.1,266.9 L298.1,254.0 L299.4,241.1 L300.6,230.0 L301.6,222.2 L303.4,202.6 L304.6,186.1 L306.1,175.5 L307.9,170.7 L309.4,174.0 L310.9,187.6 L312.4,202.6 L313.9,222.2 L315.2,241.1 L316.8,257.3 L318.7,270.2 L321.6,281.5 L326.0,288.7 L328.4,290.8" fill="none" stroke="#c83a1e" stroke-width="1.394" stroke-linejoin="round" stroke-linecap="round"/>
<path d="M65.0,423.7 L70.3,419.4 L73.8,416.8 L77.2,413.3 L80.7,411.6 L84.1,415.9 L89.3,417.6 L94.4,415.9 L101.3,414.2 L108.2,408.2 L115.1,401.3 L120.2,394.4 L125.4,391.0 L128.8,393.6 L132.3,390.1 L137.4,387.5 L142.6,385.8 L146.0,384.1 L150.4,385.5 L154.7,383.0 L159.0,385.1 L164.3,385.1 L169.7,388.3 L175.1,391.5 L180.4,389.4 L184.7,380.8 L188.0,373.3 L191.2,365.8 L194.4,366.8 L197.6,370.1 L200.8,377.6 L204.1,387.3 L208.4,396.9 L212.7,406.6 L217.0,413.0 L221.2,414.1 L225.0,414.4 L231.5,413.9 L235.8,412.8 L239.0,412.3 L242.2,414.4 L246.5,417.1 L251.9,418.2 L257.3,419.3 L262.7,420.4 L268.1,420.4 L273.4,419.8 L278.8,418.8 L283.1,417.7 L287.0,414.2 L291.0,411.0 L295.1,406.2 L298.1,391.1 L301.1,381.3 L303.4,383.6 L305.6,388.1 L307.9,395.6 L310.1,406.2 L313.2,415.2 L317.7,421.2 L323.7,428.0 L327.5,431.8" fill="none" stroke="#5a5a5a" stroke-width="1.785" stroke-linejoin="round" stroke-linecap="round"/>
<path d="M65.0,429.7 L68.6,428.3 L73.3,427.2 L79.4,424.3 L85.5,422.9 L88.6,420.5 L91.7,422.6 L95.8,421.0 L99.6,418.2 L104.7,415.1 L109.9,411.6 L115.1,409.0 L122.0,405.6 L127.1,402.2 L130.6,403.9 L135.7,401.3 L140.9,397.0 L145.0,396.9 L149.3,398.0 L153.6,401.2 L157.9,402.7 L162.2,401.2 L166.5,398.0 L170.8,394.8 L175.1,394.1 L179.4,393.7 L181.5,383.0 L183.7,372.2 L185.8,363.6 L188.0,358.3 L190.1,360.4 L193.3,366.8 L196.5,373.3 L199.8,383.0 L201.9,395.8 L204.1,408.7 L206.2,413.0 L209.4,414.1 L213.7,418.4 L219.1,421.6 L224.5,419.9 L229.3,416.6 L233.6,414.4 L236.8,413.4 L239.5,413.9 L242.2,417.1 L244.4,419.8 L248.7,420.7 L257.3,420.9 L265.9,420.7 L273.4,419.3 L278.8,417.1 L283.1,416.6 L284.5,413.0 L286.3,407.8 L287.8,403.3 L290.0,397.3 L292.3,396.5 L294.6,398.8 L296.1,395.8 L297.6,389.8 L299.1,383.7 L300.6,370.2 L301.8,355.0 L302.4,347.8 L303.1,338.0 L303.8,330.3 L305.2,328.9 L305.9,322.6 L306.9,316.3 L308.0,315.9 L309.1,317.0 L310.1,326.8 L311.1,338.0 L312.5,352.0 L313.5,370.0 L314.3,377.0 L315.0,385.1 L316.9,400.1 L319.2,412.2 L322.2,422.7 L325.2,428.0 L327.9,430.3" fill="none" stroke="#c83a1e" stroke-width="1.785" stroke-linejoin="round" stroke-linecap="round"/>
<path d="M65.0,420.2 L66.9,416.8 L70.3,415.1 L72.9,411.6 L74.6,402.2 L76.3,399.6 L78.1,409.9 L79.8,400.4 L81.5,401.3 L84.1,413.3 L87.5,416.8 L91.0,417.6 L97.9,415.1 L104.7,414.2 L109.0,404.7 L111.6,408.2 L114.2,410.8 L117.6,404.7 L121.1,397.9 L123.7,394.4 L126.3,390.1 L128.8,391.8 L132.3,393.6 L136.6,396.1 L140.0,395.8 L142.6,399.6 L146.0,402.2 L150.4,403.0 L155.7,399.1 L161.1,396.3 L164.3,392.6 L168.6,395.8 L172.9,399.1 L176.1,403.4 L180.4,401.2 L183.7,400.1 L186.9,392.6 L190.1,384.0 L194.4,385.1 L198.7,384.0 L201.9,391.5 L204.1,402.3 L206.2,408.7 L210.5,408.3 L214.8,410.9 L219.1,413.0 L222.3,405.5 L225.0,405.3 L231.5,403.7 L233.1,405.3 L235.8,402.1 L238.5,398.8 L240.1,396.1 L241.7,397.2 L243.3,394.5 L245.5,393.5 L247.6,395.1 L250.8,400.5 L254.1,404.8 L257.3,407.4 L261.6,410.1 L264.8,412.3 L268.1,415.0 L271.3,414.2 L275.6,413.4 L278.8,411.8 L281.0,410.7 L283.1,412.8 L285.3,414.4 L288.2,408.4 L292.2,407.3 L295.3,405.3 L297.3,401.2 L299.4,389.0 L301.0,384.9 L302.4,393.1 L303.5,401.2 L304.9,395.1 L306.5,389.0 L308.2,395.1 L310.2,405.3 L312.7,415.5 L315.7,418.6 L318.8,421.6 L322.9,425.7 L326.9,429.8 L327.9,431.5" fill="none" stroke="#0a0a0a" stroke-width="1.9949999999999999" stroke-linejoin="round" stroke-linecap="round"/>
<rect x="85.6" y="41.6" width="195.9" height="78.4" fill="#fff" stroke="#777" stroke-width="1"/>
<line x1="83.60" y1="41.90" x2="85.60" y2="41.90" stroke="#8c8c8c" stroke-width="0.9" />
<line x1="281.50" y1="41.90" x2="283.50" y2="41.90" stroke="#8c8c8c" stroke-width="0.9" />
<text transform="translate(82.40,46.80) scale(1,1.07)" font-size="12.3" text-anchor="end" font-weight="normal" fill="#1e1e1e" >6</text>
<line x1="83.60" y1="69.70" x2="85.60" y2="69.70" stroke="#8c8c8c" stroke-width="0.9" />
<line x1="281.50" y1="69.70" x2="283.50" y2="69.70" stroke="#8c8c8c" stroke-width="0.9" />
<text transform="translate(82.40,74.60) scale(1,1.07)" font-size="12.3" text-anchor="end" font-weight="normal" fill="#1e1e1e" >4</text>
<line x1="83.60" y1="97.50" x2="85.60" y2="97.50" stroke="#8c8c8c" stroke-width="0.9" />
<line x1="281.50" y1="97.50" x2="283.50" y2="97.50" stroke="#8c8c8c" stroke-width="0.9" />
<text transform="translate(82.40,102.40) scale(1,1.07)" font-size="12.3" text-anchor="end" font-weight="normal" fill="#1e1e1e" >2</text>
<line x1="87.50" y1="42.00" x2="87.50" y2="120.00" stroke="#a8a8a8" stroke-width="0.9" stroke-dasharray="3,2.5"/>
<line x1="234.30" y1="42.00" x2="234.30" y2="120.00" stroke="#a8a8a8" stroke-width="0.9" stroke-dasharray="3,2.5"/>
<g clip-path="url(#insetclip)">
<path d="M85.4,92.0 L89.3,91.1 L96.3,89.0 L101.6,88.0 L110.5,88.0 L119.3,89.4 L126.3,91.1 L133.4,88.0 L140.4,86.2 L145.7,83.7 L151.0,79.2 L156.3,74.4 L161.6,76.2 L170.4,78.8 L180.0,79.7 L182.6,77.1 L187.1,70.0 L190.6,70.9 L194.1,64.7 L197.6,57.6 L200.3,54.1 L203.8,55.9 L206.5,50.2 L208.2,55.9 L210.9,58.5 L214.4,61.2 L217.9,57.6 L222.4,55.0 L225.0,59.4 L228.5,66.5 L232.9,67.4 L235.6,70.0 L240.0,80.6 L245.3,86.8 L250.6,90.3 L255.9,96.5 L261.2,100.9 L268.2,106.2 L275.3,108.5 L281.5,107.9" fill="none" stroke="#c8c8c8" stroke-width="1.8" stroke-linejoin="round" stroke-linecap="round"/>
<path d="M85.4,92.6 L91.0,95.0 L98.1,94.7 L106.9,97.3 L119.3,100.8 L128.1,100.0 L136.9,95.0 L145.7,92.9 L154.5,92.6 L163.4,92.9 L174.0,91.1 L180.0,91.0 L185.3,87.6 L190.6,76.2 L195.9,66.5 L200.3,59.4 L204.7,58.5 L209.1,62.1 L212.6,69.1 L215.3,74.4 L217.9,64.7 L220.6,57.6 L223.2,56.8 L226.8,64.7 L231.2,71.8 L235.6,74.4 L240.0,84.1 L244.4,91.2 L250.6,98.2 L257.6,101.8 L262.9,97.9 L268.2,99.1 L273.5,101.8 L281.5,106.2" fill="none" stroke="#5a5a5a" stroke-width="1.8" stroke-linejoin="round" stroke-linecap="round"/>
<path d="M85.4,112.0 L92.8,111.4 L101.6,112.3 L119.3,112.8 L133.4,112.7 L140.4,111.1 L147.5,109.3 L156.3,108.4 L163.4,106.1 L170.4,101.7 L175.7,98.7 L180.0,98.2 L185.3,100.0 L194.1,101.8 L206.5,100.0 L213.5,102.6 L221.5,107.9 L227.6,106.2 L234.7,103.9 L240.0,102.6 L247.1,103.5 L252.3,101.8 L259.4,103.5 L268.2,107.9 L275.3,110.6 L281.5,111.5" fill="none" stroke="#c83a1e" stroke-width="1.8" stroke-linejoin="round" stroke-linecap="round"/>
<path d="M85.4,106.1 L89.3,104.9 L92.8,100.0 L96.3,95.6 L99.9,97.3 L103.4,98.7 L106.9,97.0 L115.7,98.2 L122.8,100.8 L133.4,100.8 L140.4,102.1 L149.3,103.1 L158.1,100.0 L165.1,98.6 L172.2,99.6 L179.2,98.2 L182.0,96.0 L185.3,91.2 L190.6,80.6 L195.9,69.1 L201.2,60.3 L206.5,57.6 L210.9,56.8 L214.4,59.4 L217.1,64.7 L219.7,72.6 L222.4,81.5 L225.9,85.0 L228.5,91.2 L231.2,99.1 L234.7,105.3 L240.0,110.6 L247.1,114.1 L254.1,115.9 L257.0,115.4 L261.2,114.0 L266.8,116.8 L270.1,117.3 L275.7,115.1 L281.5,111.5" fill="none" stroke="#0a0a0a" stroke-width="2.0" stroke-linejoin="round" stroke-linecap="round"/>
</g>
<text x="86.9" y="39.8" font-size="8.2" fill="#1e1e1e">x10<tspan font-size="6" dy="-3.2">-3</tspan></text>
<line x1="416.80" y1="35.00" x2="416.80" y2="152.40" stroke="#8c8c8c" stroke-width="1" />
<line x1="416.80" y1="152.40" x2="683.00" y2="152.40" stroke="#8c8c8c" stroke-width="1" />
<line x1="414.30" y1="146.60" x2="416.80" y2="146.60" stroke="#8c8c8c" stroke-width="0.9" />
<text transform="translate(412.60,151.10) scale(1,1.07)" font-size="13.5" text-anchor="end" font-weight="normal" fill="#1e1e1e" >0</text>
<line x1="414.30" y1="112.90" x2="416.80" y2="112.90" stroke="#8c8c8c" stroke-width="0.9" />
<text transform="translate(412.60,117.40) scale(1,1.07)" font-size="13.5" text-anchor="end" font-weight="normal" fill="#1e1e1e" >5</text>
<line x1="414.30" y1="78.00" x2="416.80" y2="78.00" stroke="#8c8c8c" stroke-width="0.9" />
<text transform="translate(412.60,82.50) scale(1,1.07)" font-size="13.5" text-anchor="end" font-weight="normal" fill="#1e1e1e" >10</text>
<line x1="414.30" y1="43.70" x2="416.80" y2="43.70" stroke="#8c8c8c" stroke-width="0.9" />
<text transform="translate(412.60,48.20) scale(1,1.07)" font-size="13.5" text-anchor="end" font-weight="normal" fill="#1e1e1e" >15</text>
<line x1="416.70" y1="174.00" x2="416.70" y2="293.60" stroke="#8c8c8c" stroke-width="1" />
<line x1="416.70" y1="293.60" x2="683.00" y2="293.60" stroke="#8c8c8c" stroke-width="1" />
<line x1="414.20" y1="293.00" x2="416.70" y2="293.00" stroke="#8c8c8c" stroke-width="0.9" />
<text transform="translate(410.70,296.90) scale(1,1.07)" font-size="13.5" text-anchor="end" font-weight="normal" fill="#1e1e1e" >0</text>
<line x1="414.20" y1="257.00" x2="416.70" y2="257.00" stroke="#8c8c8c" stroke-width="0.9" />
<text transform="translate(410.70,260.90) scale(1,1.07)" font-size="13.5" text-anchor="end" font-weight="normal" fill="#1e1e1e" >5</text>
<line x1="414.20" y1="221.20" x2="416.70" y2="221.20" stroke="#8c8c8c" stroke-width="0.9" />
<text transform="translate(410.70,225.10) scale(1,1.07)" font-size="13.5" text-anchor="end" font-weight="normal" fill="#1e1e1e" >10</text>
<line x1="414.20" y1="185.20" x2="416.70" y2="185.20" stroke="#8c8c8c" stroke-width="0.9" />
<text transform="translate(410.70,189.10) scale(1,1.07)" font-size="13.5" text-anchor="end" font-weight="normal" fill="#1e1e1e" >15</text>
<line x1="417.70" y1="320.00" x2="417.70" y2="437.20" stroke="#8c8c8c" stroke-width="1" />
<line x1="417.70" y1="437.20" x2="683.00" y2="437.20" stroke="#8c8c8c" stroke-width="1" />
<line x1="415.20" y1="434.80" x2="417.70" y2="434.80" stroke="#8c8c8c" stroke-width="0.9" />
<text transform="translate(413.50,439.60) scale(1,1.07)" font-size="13.5" text-anchor="end" font-weight="normal" fill="#1e1e1e" >0</text>
<line x1="415.20" y1="397.40" x2="417.70" y2="397.40" stroke="#8c8c8c" stroke-width="0.9" />
<text transform="translate(413.50,402.20) scale(1,1.07)" font-size="13.5" text-anchor="end" font-weight="normal" fill="#1e1e1e" >5</text>
<line x1="415.20" y1="358.70" x2="417.70" y2="358.70" stroke="#8c8c8c" stroke-width="0.9" />
<text transform="translate(413.50,363.50) scale(1,1.07)" font-size="13.5" text-anchor="end" font-weight="normal" fill="#1e1e1e" >10</text>
<text x="418.70" y="31.00" font-size="13.2" fill="#1e1e1e">x10<tspan font-size="10" dy="-5.6">-3</tspan></text>
<text x="422.20" y="170.90" font-size="13.2" fill="#1e1e1e">x10<tspan font-size="10" dy="-5.6">-3</tspan></text>
<text x="423.70" y="319.50" font-size="13.2" fill="#1e1e1e">x10<tspan font-size="10" dy="-5.6">-3</tspan></text>
<text x="421.20" y="49.70" font-size="20" text-anchor="start" font-weight="bold" fill="#000" >d</text>
<text x="421.80" y="186.10" font-size="20" text-anchor="start" font-weight="bold" fill="#000" >e</text>
<text x="421.70" y="338.80" font-size="20" text-anchor="start" font-weight="bold" fill="#000" >f</text>
<line x1="425.45" y1="103.60" x2="425.45" y2="110.30" stroke="#444" stroke-width="0.8" />
<line x1="425.45" y1="136.60" x2="425.45" y2="140.50" stroke="#444" stroke-width="0.8" />
<line x1="423.55" y1="103.60" x2="427.35" y2="103.60" stroke="#333" stroke-width="0.9" />
<line x1="423.55" y1="140.50" x2="427.35" y2="140.50" stroke="#333" stroke-width="0.9" />
<rect x="421.50" y="110.30" width="7.90" height="26.30" fill="#000000" stroke="#222" stroke-width="0.7"/>
<line x1="421.50" y1="127.30" x2="429.40" y2="127.30" stroke="#3c3c3c" stroke-width="0.9" />
<line x1="434.10" y1="111.00" x2="434.10" y2="125.10" stroke="#444" stroke-width="0.8" />
<line x1="434.10" y1="143.80" x2="434.10" y2="144.30" stroke="#444" stroke-width="0.8" />
<line x1="432.20" y1="111.00" x2="436.00" y2="111.00" stroke="#333" stroke-width="0.9" />
<line x1="432.20" y1="144.30" x2="436.00" y2="144.30" stroke="#333" stroke-width="0.9" />
<rect x="430.20" y="125.10" width="7.80" height="18.70" fill="#dc2a0a" stroke="#222" stroke-width="0.7"/>
<line x1="430.20" y1="133.00" x2="438.00" y2="133.00" stroke="#8a1a0a" stroke-width="0.9" />
<line x1="442.95" y1="124.30" x2="442.95" y2="128.70" stroke="#444" stroke-width="0.8" />
<line x1="442.95" y1="140.50" x2="442.95" y2="143.30" stroke="#444" stroke-width="0.8" />
<line x1="441.05" y1="124.30" x2="444.85" y2="124.30" stroke="#333" stroke-width="0.9" />
<line x1="441.05" y1="143.30" x2="444.85" y2="143.30" stroke="#333" stroke-width="0.9" />
<rect x="439.20" y="128.70" width="7.50" height="11.80" fill="#5c5c5c" stroke="#222" stroke-width="0.7"/>
<line x1="439.20" y1="133.00" x2="446.70" y2="133.00" stroke="#222222" stroke-width="0.9" />
<line x1="441.55" y1="73.40" x2="444.35" y2="73.40" stroke="#b8585e" stroke-width="0.7" />
<line x1="442.95" y1="72.00" x2="442.95" y2="74.80" stroke="#b8585e" stroke-width="0.7" />
<line x1="441.55" y1="81.70" x2="444.35" y2="81.70" stroke="#b8585e" stroke-width="0.7" />
<line x1="442.95" y1="80.30" x2="442.95" y2="83.10" stroke="#b8585e" stroke-width="0.7" />
<line x1="441.55" y1="92.10" x2="444.35" y2="92.10" stroke="#b8585e" stroke-width="0.7" />
<line x1="442.95" y1="90.70" x2="442.95" y2="93.50" stroke="#b8585e" stroke-width="0.7" />
<line x1="441.55" y1="105.00" x2="444.35" y2="105.00" stroke="#b8585e" stroke-width="0.7" />
<line x1="442.95" y1="103.60" x2="442.95" y2="106.40" stroke="#b8585e" stroke-width="0.7" />
<line x1="441.55" y1="107.80" x2="444.35" y2="107.80" stroke="#b8585e" stroke-width="0.7" />
<line x1="442.95" y1="106.40" x2="442.95" y2="109.20" stroke="#b8585e" stroke-width="0.7" />
<line x1="451.90" y1="118.10" x2="451.90" y2="125.70" stroke="#444" stroke-width="0.8" />
<line x1="451.90" y1="139.10" x2="451.90" y2="143.30" stroke="#444" stroke-width="0.8" />
<line x1="450.00" y1="118.10" x2="453.80" y2="118.10" stroke="#333" stroke-width="0.9" />
<line x1="450.00" y1="143.30" x2="453.80" y2="143.30" stroke="#333" stroke-width="0.9" />
<rect x="448.10" y="125.70" width="7.60" height="13.40" fill="#cfcfcf" stroke="#222" stroke-width="0.7"/>
<line x1="448.10" y1="136.30" x2="455.70" y2="136.30" stroke="#444444" stroke-width="0.9" />
<line x1="450.50" y1="41.70" x2="453.30" y2="41.70" stroke="#b8585e" stroke-width="0.7" />
<line x1="451.90" y1="40.30" x2="451.90" y2="43.10" stroke="#b8585e" stroke-width="0.7" />
<line x1="450.50" y1="45.40" x2="453.30" y2="45.40" stroke="#b8585e" stroke-width="0.7" />
<line x1="451.90" y1="44.00" x2="451.90" y2="46.80" stroke="#b8585e" stroke-width="0.7" />
<line x1="450.50" y1="54.60" x2="453.30" y2="54.60" stroke="#b8585e" stroke-width="0.7" />
<line x1="451.90" y1="53.20" x2="451.90" y2="56.00" stroke="#b8585e" stroke-width="0.7" />
<line x1="450.50" y1="57.10" x2="453.30" y2="57.10" stroke="#b8585e" stroke-width="0.7" />
<line x1="451.90" y1="55.70" x2="451.90" y2="58.50" stroke="#b8585e" stroke-width="0.7" />
<line x1="450.50" y1="102.20" x2="453.30" y2="102.20" stroke="#b8585e" stroke-width="0.7" />
<line x1="451.90" y1="100.80" x2="451.90" y2="103.60" stroke="#b8585e" stroke-width="0.7" />
<line x1="469.50" y1="125.10" x2="469.50" y2="132.10" stroke="#444" stroke-width="0.8" />
<line x1="469.50" y1="137.70" x2="469.50" y2="140.00" stroke="#444" stroke-width="0.8" />
<line x1="467.60" y1="125.10" x2="471.40" y2="125.10" stroke="#333" stroke-width="0.9" />
<line x1="467.60" y1="140.00" x2="471.40" y2="140.00" stroke="#333" stroke-width="0.9" />
<rect x="465.70" y="132.10" width="7.60" height="5.60" fill="#000000" stroke="#222" stroke-width="0.7"/>
<line x1="465.70" y1="134.90" x2="473.30" y2="134.90" stroke="#3c3c3c" stroke-width="0.9" />
<line x1="468.10" y1="120.00" x2="470.90" y2="120.00" stroke="#b8585e" stroke-width="0.7" />
<line x1="469.50" y1="118.60" x2="469.50" y2="121.40" stroke="#b8585e" stroke-width="0.7" />
<line x1="478.75" y1="127.30" x2="478.75" y2="134.30" stroke="#444" stroke-width="0.8" />
<line x1="478.75" y1="142.70" x2="478.75" y2="143.00" stroke="#444" stroke-width="0.8" />
<line x1="476.85" y1="127.30" x2="480.65" y2="127.30" stroke="#333" stroke-width="0.9" />
<line x1="476.85" y1="143.00" x2="480.65" y2="143.00" stroke="#333" stroke-width="0.9" />
<rect x="475.00" y="134.30" width="7.50" height="8.40" fill="#dc2a0a" stroke="#222" stroke-width="0.7"/>
<line x1="475.00" y1="137.70" x2="482.50" y2="137.70" stroke="#8a1a0a" stroke-width="0.9" />
<line x1="487.80" y1="106.90" x2="487.80" y2="120.00" stroke="#444" stroke-width="0.8" />
<line x1="487.80" y1="140.00" x2="487.80" y2="143.30" stroke="#444" stroke-width="0.8" />
<line x1="485.90" y1="106.90" x2="489.70" y2="106.90" stroke="#333" stroke-width="0.9" />
<line x1="485.90" y1="143.30" x2="489.70" y2="143.30" stroke="#333" stroke-width="0.9" />
<rect x="483.90" y="120.00" width="7.80" height="20.00" fill="#5c5c5c" stroke="#222" stroke-width="0.7"/>
<line x1="483.90" y1="133.00" x2="491.70" y2="133.00" stroke="#222222" stroke-width="0.9" />
<line x1="496.80" y1="114.80" x2="496.80" y2="127.30" stroke="#444" stroke-width="0.8" />
<line x1="496.80" y1="136.30" x2="496.80" y2="144.70" stroke="#444" stroke-width="0.8" />
<line x1="494.90" y1="114.80" x2="498.70" y2="114.80" stroke="#333" stroke-width="0.9" />
<line x1="494.90" y1="144.70" x2="498.70" y2="144.70" stroke="#333" stroke-width="0.9" />
<rect x="492.90" y="127.30" width="7.80" height="9.00" fill="#cfcfcf" stroke="#222" stroke-width="0.7"/>
<line x1="492.90" y1="132.10" x2="500.70" y2="132.10" stroke="#444444" stroke-width="0.9" />
<line x1="495.40" y1="88.70" x2="498.20" y2="88.70" stroke="#b8585e" stroke-width="0.7" />
<line x1="496.80" y1="87.30" x2="496.80" y2="90.10" stroke="#b8585e" stroke-width="0.7" />
<line x1="495.40" y1="98.50" x2="498.20" y2="98.50" stroke="#b8585e" stroke-width="0.7" />
<line x1="496.80" y1="97.10" x2="496.80" y2="99.90" stroke="#b8585e" stroke-width="0.7" />
<line x1="495.40" y1="105.50" x2="498.20" y2="105.50" stroke="#b8585e" stroke-width="0.7" />
<line x1="496.80" y1="104.10" x2="496.80" y2="106.90" stroke="#b8585e" stroke-width="0.7" />
<line x1="514.20" y1="106.00" x2="514.20" y2="123.50" stroke="#444" stroke-width="0.8" />
<line x1="514.20" y1="135.00" x2="514.20" y2="137.20" stroke="#444" stroke-width="0.8" />
<line x1="512.30" y1="106.00" x2="516.10" y2="106.00" stroke="#333" stroke-width="0.9" />
<line x1="512.30" y1="137.20" x2="516.10" y2="137.20" stroke="#333" stroke-width="0.9" />
<rect x="510.30" y="123.50" width="7.80" height="11.50" fill="#000000" stroke="#222" stroke-width="0.7"/>
<line x1="510.30" y1="132.80" x2="518.10" y2="132.80" stroke="#3c3c3c" stroke-width="0.9" />
<line x1="523.05" y1="127.80" x2="523.05" y2="134.10" stroke="#444" stroke-width="0.8" />
<line x1="523.05" y1="141.20" x2="523.05" y2="141.50" stroke="#444" stroke-width="0.8" />
<line x1="521.15" y1="127.80" x2="524.95" y2="127.80" stroke="#333" stroke-width="0.9" />
<line x1="521.15" y1="141.50" x2="524.95" y2="141.50" stroke="#333" stroke-width="0.9" />
<rect x="519.30" y="134.10" width="7.50" height="7.10" fill="#dc2a0a" stroke="#222" stroke-width="0.7"/>
<line x1="519.30" y1="137.20" x2="526.80" y2="137.20" stroke="#8a1a0a" stroke-width="0.9" />
<line x1="532.10" y1="104.50" x2="532.10" y2="121.00" stroke="#444" stroke-width="0.8" />
<line x1="532.10" y1="136.60" x2="532.10" y2="142.20" stroke="#444" stroke-width="0.8" />
<line x1="530.20" y1="104.50" x2="534.00" y2="104.50" stroke="#333" stroke-width="0.9" />
<line x1="530.20" y1="142.20" x2="534.00" y2="142.20" stroke="#333" stroke-width="0.9" />
<rect x="528.40" y="121.00" width="7.40" height="15.60" fill="#5c5c5c" stroke="#222" stroke-width="0.7"/>
<line x1="528.40" y1="131.30" x2="535.80" y2="131.30" stroke="#222222" stroke-width="0.9" />
<line x1="530.70" y1="77.30" x2="533.50" y2="77.30" stroke="#b8585e" stroke-width="0.7" />
<line x1="532.10" y1="75.90" x2="532.10" y2="78.70" stroke="#b8585e" stroke-width="0.7" />
<line x1="540.85" y1="90.40" x2="540.85" y2="114.70" stroke="#444" stroke-width="0.8" />
<line x1="540.85" y1="132.80" x2="540.85" y2="142.80" stroke="#444" stroke-width="0.8" />
<line x1="538.95" y1="90.40" x2="542.75" y2="90.40" stroke="#333" stroke-width="0.9" />
<line x1="538.95" y1="142.80" x2="542.75" y2="142.80" stroke="#333" stroke-width="0.9" />
<rect x="537.10" y="114.70" width="7.50" height="18.10" fill="#cfcfcf" stroke="#222" stroke-width="0.7"/>
<line x1="537.10" y1="127.80" x2="544.60" y2="127.80" stroke="#444444" stroke-width="0.9" />
<line x1="539.45" y1="80.50" x2="542.25" y2="80.50" stroke="#b8585e" stroke-width="0.7" />
<line x1="540.85" y1="79.10" x2="540.85" y2="81.90" stroke="#b8585e" stroke-width="0.7" />
<line x1="558.75" y1="51.50" x2="558.75" y2="74.90" stroke="#444" stroke-width="0.8" />
<line x1="558.75" y1="126.30" x2="558.75" y2="143.40" stroke="#444" stroke-width="0.8" />
<line x1="556.85" y1="51.50" x2="560.65" y2="51.50" stroke="#333" stroke-width="0.9" />
<line x1="556.85" y1="143.40" x2="560.65" y2="143.40" stroke="#333" stroke-width="0.9" />
<rect x="555.20" y="74.90" width="7.10" height="51.40" fill="#000000" stroke="#222" stroke-width="0.7"/>
<line x1="567.65" y1="115.70" x2="567.65" y2="125.70" stroke="#444" stroke-width="0.8" />
<line x1="567.65" y1="140.30" x2="567.65" y2="143.40" stroke="#444" stroke-width="0.8" />
<line x1="565.75" y1="115.70" x2="569.55" y2="115.70" stroke="#333" stroke-width="0.9" />
<line x1="565.75" y1="143.40" x2="569.55" y2="143.40" stroke="#333" stroke-width="0.9" />
<rect x="563.90" y="125.70" width="7.50" height="14.60" fill="#dc2a0a" stroke="#222" stroke-width="0.7"/>
<line x1="563.90" y1="134.10" x2="571.40" y2="134.10" stroke="#8a1a0a" stroke-width="0.9" />
<line x1="576.35" y1="73.30" x2="576.35" y2="94.50" stroke="#444" stroke-width="0.8" />
<line x1="576.35" y1="128.20" x2="576.35" y2="140.30" stroke="#444" stroke-width="0.8" />
<line x1="574.45" y1="73.30" x2="578.25" y2="73.30" stroke="#333" stroke-width="0.9" />
<line x1="574.45" y1="140.30" x2="578.25" y2="140.30" stroke="#333" stroke-width="0.9" />
<rect x="572.60" y="94.50" width="7.50" height="33.70" fill="#5c5c5c" stroke="#222" stroke-width="0.7"/>
<line x1="572.60" y1="113.20" x2="580.10" y2="113.20" stroke="#222222" stroke-width="0.9" />
<line x1="574.95" y1="41.50" x2="577.75" y2="41.50" stroke="#b8585e" stroke-width="0.7" />
<line x1="576.35" y1="40.10" x2="576.35" y2="42.90" stroke="#b8585e" stroke-width="0.7" />
<line x1="585.60" y1="59.30" x2="585.60" y2="92.30" stroke="#444" stroke-width="0.8" />
<line x1="585.60" y1="121.00" x2="585.60" y2="136.60" stroke="#444" stroke-width="0.8" />
<line x1="583.70" y1="59.30" x2="587.50" y2="59.30" stroke="#333" stroke-width="0.9" />
<line x1="583.70" y1="136.60" x2="587.50" y2="136.60" stroke="#333" stroke-width="0.9" />
<rect x="581.70" y="92.30" width="7.80" height="28.70" fill="#cfcfcf" stroke="#222" stroke-width="0.7"/>
<line x1="581.70" y1="113.20" x2="589.50" y2="113.20" stroke="#444444" stroke-width="0.9" />
<line x1="602.90" y1="133.40" x2="602.90" y2="133.40" stroke="#444" stroke-width="0.8" />
<line x1="602.90" y1="141.20" x2="602.90" y2="144.30" stroke="#444" stroke-width="0.8" />
<line x1="601.00" y1="133.40" x2="604.80" y2="133.40" stroke="#333" stroke-width="0.9" />
<line x1="601.00" y1="144.30" x2="604.80" y2="144.30" stroke="#333" stroke-width="0.9" />
<rect x="599.00" y="133.40" width="7.80" height="7.80" fill="#000000" stroke="#222" stroke-width="0.7"/>
<line x1="599.00" y1="137.40" x2="606.80" y2="137.40" stroke="#3c3c3c" stroke-width="0.9" />
<line x1="611.90" y1="131.80" x2="611.90" y2="131.80" stroke="#444" stroke-width="0.8" />
<line x1="611.90" y1="140.20" x2="611.90" y2="143.30" stroke="#444" stroke-width="0.8" />
<line x1="610.00" y1="131.80" x2="613.80" y2="131.80" stroke="#333" stroke-width="0.9" />
<line x1="610.00" y1="143.30" x2="613.80" y2="143.30" stroke="#333" stroke-width="0.9" />
<rect x="608.00" y="131.80" width="7.80" height="8.40" fill="#dc2a0a" stroke="#222" stroke-width="0.7"/>
<line x1="610.50" y1="90.40" x2="613.30" y2="90.40" stroke="#b8585e" stroke-width="0.7" />
<line x1="611.90" y1="89.00" x2="611.90" y2="91.80" stroke="#b8585e" stroke-width="0.7" />
<line x1="610.50" y1="107.50" x2="613.30" y2="107.50" stroke="#b8585e" stroke-width="0.7" />
<line x1="611.90" y1="106.10" x2="611.90" y2="108.90" stroke="#b8585e" stroke-width="0.7" />
<line x1="621.00" y1="108.50" x2="621.00" y2="124.70" stroke="#444" stroke-width="0.8" />
<line x1="621.00" y1="136.50" x2="621.00" y2="142.70" stroke="#444" stroke-width="0.8" />
<line x1="619.10" y1="108.50" x2="622.90" y2="108.50" stroke="#333" stroke-width="0.9" />
<line x1="619.10" y1="142.70" x2="622.90" y2="142.70" stroke="#333" stroke-width="0.9" />
<rect x="617.40" y="124.70" width="7.20" height="11.80" fill="#5c5c5c" stroke="#222" stroke-width="0.7"/>
<line x1="617.40" y1="132.80" x2="624.60" y2="132.80" stroke="#222222" stroke-width="0.9" />
<line x1="619.60" y1="80.40" x2="622.40" y2="80.40" stroke="#b8585e" stroke-width="0.7" />
<line x1="621.00" y1="79.00" x2="621.00" y2="81.80" stroke="#b8585e" stroke-width="0.7" />
<line x1="619.60" y1="88.80" x2="622.40" y2="88.80" stroke="#b8585e" stroke-width="0.7" />
<line x1="621.00" y1="87.40" x2="621.00" y2="90.20" stroke="#b8585e" stroke-width="0.7" />
<line x1="619.60" y1="95.40" x2="622.40" y2="95.40" stroke="#b8585e" stroke-width="0.7" />
<line x1="621.00" y1="94.00" x2="621.00" y2="96.80" stroke="#b8585e" stroke-width="0.7" />
<line x1="619.60" y1="102.90" x2="622.40" y2="102.90" stroke="#b8585e" stroke-width="0.7" />
<line x1="621.00" y1="101.50" x2="621.00" y2="104.30" stroke="#b8585e" stroke-width="0.7" />
<line x1="629.85" y1="111.00" x2="629.85" y2="124.70" stroke="#444" stroke-width="0.8" />
<line x1="629.85" y1="137.10" x2="629.85" y2="144.30" stroke="#444" stroke-width="0.8" />
<line x1="627.95" y1="111.00" x2="631.75" y2="111.00" stroke="#333" stroke-width="0.9" />
<line x1="627.95" y1="144.30" x2="631.75" y2="144.30" stroke="#333" stroke-width="0.9" />
<rect x="626.10" y="124.70" width="7.50" height="12.40" fill="#cfcfcf" stroke="#222" stroke-width="0.7"/>
<line x1="626.10" y1="130.90" x2="633.60" y2="130.90" stroke="#444444" stroke-width="0.9" />
<line x1="628.45" y1="103.20" x2="631.25" y2="103.20" stroke="#b8585e" stroke-width="0.7" />
<line x1="629.85" y1="101.80" x2="629.85" y2="104.60" stroke="#b8585e" stroke-width="0.7" />
<line x1="647.50" y1="46.20" x2="647.50" y2="85.10" stroke="#444" stroke-width="0.8" />
<line x1="647.50" y1="120.30" x2="647.50" y2="135.90" stroke="#444" stroke-width="0.8" />
<line x1="645.60" y1="46.20" x2="649.40" y2="46.20" stroke="#333" stroke-width="0.9" />
<line x1="645.60" y1="135.90" x2="649.40" y2="135.90" stroke="#333" stroke-width="0.9" />
<rect x="643.60" y="85.10" width="7.80" height="35.20" fill="#000000" stroke="#222" stroke-width="0.7"/>
<line x1="643.60" y1="99.10" x2="651.40" y2="99.10" stroke="#3c3c3c" stroke-width="0.9" />
<line x1="656.50" y1="39.30" x2="656.50" y2="46.80" stroke="#444" stroke-width="0.8" />
<line x1="656.50" y1="90.40" x2="656.50" y2="119.40" stroke="#444" stroke-width="0.8" />
<line x1="654.60" y1="39.30" x2="658.40" y2="39.30" stroke="#333" stroke-width="0.9" />
<line x1="654.60" y1="119.40" x2="658.40" y2="119.40" stroke="#333" stroke-width="0.9" />
<rect x="652.60" y="46.80" width="7.80" height="43.60" fill="#dc2a0a" stroke="#222" stroke-width="0.7"/>
<line x1="652.60" y1="71.00" x2="660.40" y2="71.00" stroke="#8a1a0a" stroke-width="0.9" />
<line x1="665.20" y1="57.10" x2="665.20" y2="98.20" stroke="#444" stroke-width="0.8" />
<line x1="665.20" y1="131.20" x2="665.20" y2="141.20" stroke="#444" stroke-width="0.8" />
<line x1="663.30" y1="57.10" x2="667.10" y2="57.10" stroke="#333" stroke-width="0.9" />
<line x1="663.30" y1="141.20" x2="667.10" y2="141.20" stroke="#333" stroke-width="0.9" />
<rect x="661.30" y="98.20" width="7.80" height="33.00" fill="#5c5c5c" stroke="#222" stroke-width="0.7"/>
<line x1="661.30" y1="112.20" x2="669.10" y2="112.20" stroke="#222222" stroke-width="0.9" />
<line x1="674.25" y1="78.90" x2="674.25" y2="107.80" stroke="#444" stroke-width="0.8" />
<line x1="674.25" y1="129.60" x2="674.25" y2="142.10" stroke="#444" stroke-width="0.8" />
<line x1="672.35" y1="78.90" x2="676.15" y2="78.90" stroke="#333" stroke-width="0.9" />
<line x1="672.35" y1="142.10" x2="676.15" y2="142.10" stroke="#333" stroke-width="0.9" />
<rect x="670.40" y="107.80" width="7.70" height="21.80" fill="#cfcfcf" stroke="#222" stroke-width="0.7"/>
<line x1="670.40" y1="116.20" x2="678.10" y2="116.20" stroke="#444444" stroke-width="0.9" />
<line x1="672.85" y1="73.30" x2="675.65" y2="73.30" stroke="#b8585e" stroke-width="0.7" />
<line x1="674.25" y1="71.90" x2="674.25" y2="74.70" stroke="#b8585e" stroke-width="0.7" />
<path d="M514.10,74.20 V72.40 H540.90 V74.20" fill="none" stroke="#333" stroke-width="1.2"/>
<path d="M521.40,64.60 L521.40,60.20 M521.40,64.60 L525.58,63.24 M521.40,64.60 L517.22,63.24 M521.40,64.60 L523.99,68.16 M521.40,64.60 L518.81,68.16 " stroke="#d22c1b" stroke-width="2.3" stroke-linecap="butt" fill="none"/>
<path d="M533.40,64.60 L533.40,60.20 M533.40,64.60 L537.58,63.24 M533.40,64.60 L529.22,63.24 M533.40,64.60 L535.99,68.16 M533.40,64.60 L530.81,68.16 " stroke="#d22c1b" stroke-width="2.3" stroke-linecap="butt" fill="none"/>
<path d="M558.20,38.70 V36.90 H585.70 V38.70" fill="none" stroke="#333" stroke-width="1.2"/>
<path d="M566.70,29.30 L566.70,24.90 M566.70,29.30 L570.88,27.94 M566.70,29.30 L562.52,27.94 M566.70,29.30 L569.29,32.86 M566.70,29.30 L564.11,32.86 " stroke="#d22c1b" stroke-width="2.3" stroke-linecap="butt" fill="none"/>
<path d="M578.60,29.30 L578.60,24.90 M578.60,29.30 L582.78,27.94 M578.60,29.30 L574.42,27.94 M578.60,29.30 L581.19,32.86 M578.60,29.30 L576.01,32.86 " stroke="#d22c1b" stroke-width="2.3" stroke-linecap="butt" fill="none"/>
<path d="M604.10,79.90 V78.10 H630.70 V79.90" fill="none" stroke="#333" stroke-width="1.2"/>
<path d="M617.50,69.70 L617.50,65.30 M617.50,69.70 L621.68,68.34 M617.50,69.70 L613.32,68.34 M617.50,69.70 L620.09,73.26 M617.50,69.70 L614.91,73.26 " stroke="#d22c1b" stroke-width="2.3" stroke-linecap="butt" fill="none"/>
<path d="M647.20,37.50 V35.70 H673.80 V37.50" fill="none" stroke="#333" stroke-width="1.2"/>
<path d="M648.20,27.70 L648.20,23.30 M648.20,27.70 L652.38,26.34 M648.20,27.70 L644.02,26.34 M648.20,27.70 L650.79,31.26 M648.20,27.70 L645.61,31.26 " stroke="#d22c1b" stroke-width="2.3" stroke-linecap="butt" fill="none"/>
<path d="M660.40,27.70 L660.40,23.30 M660.40,27.70 L664.58,26.34 M660.40,27.70 L656.22,26.34 M660.40,27.70 L662.99,31.26 M660.40,27.70 L657.81,31.26 " stroke="#d22c1b" stroke-width="2.3" stroke-linecap="butt" fill="none"/>
<path d="M672.50,27.70 L672.50,23.30 M672.50,27.70 L676.68,26.34 M672.50,27.70 L668.32,26.34 M672.50,27.70 L675.09,31.26 M672.50,27.70 L669.91,31.26 " stroke="#d22c1b" stroke-width="2.3" stroke-linecap="butt" fill="none"/>
<line x1="429.05" y1="276.30" x2="429.05" y2="278.70" stroke="#444" stroke-width="0.8" />
<line x1="429.05" y1="289.30" x2="429.05" y2="289.50" stroke="#444" stroke-width="0.8" />
<line x1="427.15" y1="276.30" x2="430.95" y2="276.30" stroke="#333" stroke-width="0.9" />
<line x1="427.15" y1="289.50" x2="430.95" y2="289.50" stroke="#333" stroke-width="0.9" />
<rect x="425.40" y="278.70" width="7.30" height="10.60" fill="#dc2a0a" stroke="#222" stroke-width="0.7"/>
<line x1="425.40" y1="284.10" x2="432.70" y2="284.10" stroke="#8a1a0a" stroke-width="0.9" />
<rect x="428.15" y="239.90" width="1.8" height="1.8" fill="#a06a6a"/>
<line x1="438.00" y1="259.00" x2="438.00" y2="275.60" stroke="#444" stroke-width="0.8" />
<line x1="438.00" y1="286.50" x2="438.00" y2="290.50" stroke="#444" stroke-width="0.8" />
<line x1="436.10" y1="259.00" x2="439.90" y2="259.00" stroke="#333" stroke-width="0.9" />
<line x1="436.10" y1="290.50" x2="439.90" y2="290.50" stroke="#333" stroke-width="0.9" />
<rect x="434.30" y="275.60" width="7.40" height="10.90" fill="#5c5c5c" stroke="#222" stroke-width="0.7"/>
<line x1="434.30" y1="282.70" x2="441.70" y2="282.70" stroke="#222222" stroke-width="0.9" />
<rect x="437.10" y="222.90" width="1.8" height="1.8" fill="#a06a6a"/>
<rect x="437.10" y="239.50" width="1.8" height="1.8" fill="#a06a6a"/>
<line x1="447.00" y1="260.90" x2="447.00" y2="273.90" stroke="#444" stroke-width="0.8" />
<line x1="447.00" y1="286.50" x2="447.00" y2="291.20" stroke="#444" stroke-width="0.8" />
<line x1="445.10" y1="260.90" x2="448.90" y2="260.90" stroke="#333" stroke-width="0.9" />
<line x1="445.10" y1="291.20" x2="448.90" y2="291.20" stroke="#333" stroke-width="0.9" />
<rect x="443.30" y="273.90" width="7.40" height="12.60" fill="#cfcfcf" stroke="#222" stroke-width="0.7"/>
<line x1="443.30" y1="281.00" x2="450.70" y2="281.00" stroke="#444444" stroke-width="0.9" />
<rect x="446.10" y="196.70" width="1.8" height="1.8" fill="#a06a6a"/>
<rect x="446.10" y="226.50" width="1.8" height="1.8" fill="#a06a6a"/>
<rect x="446.10" y="232.80" width="1.8" height="1.8" fill="#a06a6a"/>
<rect x="446.10" y="247.70" width="1.8" height="1.8" fill="#a06a6a"/>
<line x1="474.05" y1="259.00" x2="474.05" y2="272.70" stroke="#444" stroke-width="0.8" />
<line x1="474.05" y1="288.60" x2="474.05" y2="290.50" stroke="#444" stroke-width="0.8" />
<line x1="472.15" y1="259.00" x2="475.95" y2="259.00" stroke="#333" stroke-width="0.9" />
<line x1="472.15" y1="290.50" x2="475.95" y2="290.50" stroke="#333" stroke-width="0.9" />
<rect x="470.30" y="272.70" width="7.50" height="15.90" fill="#dc2a0a" stroke="#222" stroke-width="0.7"/>
<line x1="470.30" y1="284.10" x2="477.80" y2="284.10" stroke="#8a1a0a" stroke-width="0.9" />
<line x1="483.05" y1="260.20" x2="483.05" y2="275.60" stroke="#444" stroke-width="0.8" />
<line x1="483.05" y1="286.50" x2="483.05" y2="292.10" stroke="#444" stroke-width="0.8" />
<line x1="481.15" y1="260.20" x2="484.95" y2="260.20" stroke="#333" stroke-width="0.9" />
<line x1="481.15" y1="292.10" x2="484.95" y2="292.10" stroke="#333" stroke-width="0.9" />
<rect x="479.30" y="275.60" width="7.50" height="10.90" fill="#5c5c5c" stroke="#222" stroke-width="0.7"/>
<line x1="479.30" y1="280.50" x2="486.80" y2="280.50" stroke="#222222" stroke-width="0.9" />
<rect x="482.15" y="188.40" width="1.8" height="1.8" fill="#a06a6a"/>
<rect x="482.15" y="243.50" width="1.8" height="1.8" fill="#a06a6a"/>
<rect x="482.15" y="251.30" width="1.8" height="1.8" fill="#a06a6a"/>
<line x1="492.05" y1="243.90" x2="492.05" y2="268.00" stroke="#444" stroke-width="0.8" />
<line x1="492.05" y1="286.50" x2="492.05" y2="291.20" stroke="#444" stroke-width="0.8" />
<line x1="490.15" y1="243.90" x2="493.95" y2="243.90" stroke="#333" stroke-width="0.9" />
<line x1="490.15" y1="291.20" x2="493.95" y2="291.20" stroke="#333" stroke-width="0.9" />
<rect x="488.50" y="268.00" width="7.10" height="18.50" fill="#cfcfcf" stroke="#222" stroke-width="0.7"/>
<line x1="488.50" y1="279.80" x2="495.60" y2="279.80" stroke="#444444" stroke-width="0.9" />
<line x1="518.50" y1="268.10" x2="518.50" y2="278.00" stroke="#444" stroke-width="0.8" />
<line x1="518.50" y1="285.80" x2="518.50" y2="289.00" stroke="#444" stroke-width="0.8" />
<line x1="516.60" y1="268.10" x2="520.40" y2="268.10" stroke="#333" stroke-width="0.9" />
<line x1="516.60" y1="289.00" x2="520.40" y2="289.00" stroke="#333" stroke-width="0.9" />
<rect x="514.60" y="278.00" width="7.80" height="7.80" fill="#dc2a0a" stroke="#222" stroke-width="0.7"/>
<line x1="514.60" y1="282.10" x2="522.40" y2="282.10" stroke="#8a1a0a" stroke-width="0.9" />
<line x1="527.60" y1="259.40" x2="527.60" y2="270.30" stroke="#444" stroke-width="0.8" />
<line x1="527.60" y1="282.70" x2="527.60" y2="290.50" stroke="#444" stroke-width="0.8" />
<line x1="525.70" y1="259.40" x2="529.50" y2="259.40" stroke="#333" stroke-width="0.9" />
<line x1="525.70" y1="290.50" x2="529.50" y2="290.50" stroke="#333" stroke-width="0.9" />
<rect x="524.00" y="270.30" width="7.20" height="12.40" fill="#5c5c5c" stroke="#222" stroke-width="0.7"/>
<line x1="524.00" y1="280.20" x2="531.20" y2="280.20" stroke="#222222" stroke-width="0.9" />
<rect x="526.70" y="229.80" width="1.8" height="1.8" fill="#a06a6a"/>
<rect x="526.70" y="237.30" width="1.8" height="1.8" fill="#a06a6a"/>
<line x1="536.60" y1="226.00" x2="536.60" y2="260.30" stroke="#444" stroke-width="0.8" />
<line x1="536.60" y1="282.10" x2="536.60" y2="289.60" stroke="#444" stroke-width="0.8" />
<line x1="534.70" y1="226.00" x2="538.50" y2="226.00" stroke="#333" stroke-width="0.9" />
<line x1="534.70" y1="289.60" x2="538.50" y2="289.60" stroke="#333" stroke-width="0.9" />
<rect x="532.70" y="260.30" width="7.80" height="21.80" fill="#cfcfcf" stroke="#222" stroke-width="0.7"/>
<line x1="532.70" y1="274.90" x2="540.50" y2="274.90" stroke="#444444" stroke-width="0.9" />
<rect x="535.70" y="220.10" width="1.8" height="1.8" fill="#a06a6a"/>
<rect x="535.70" y="222.60" width="1.8" height="1.8" fill="#a06a6a"/>
<line x1="563.70" y1="259.40" x2="563.70" y2="264.00" stroke="#444" stroke-width="0.8" />
<line x1="563.70" y1="279.60" x2="563.70" y2="290.50" stroke="#444" stroke-width="0.8" />
<line x1="561.80" y1="259.40" x2="565.60" y2="259.40" stroke="#333" stroke-width="0.9" />
<line x1="561.80" y1="290.50" x2="565.60" y2="290.50" stroke="#333" stroke-width="0.9" />
<rect x="559.80" y="264.00" width="7.80" height="15.60" fill="#dc2a0a" stroke="#222" stroke-width="0.7"/>
<line x1="559.80" y1="272.80" x2="567.60" y2="272.80" stroke="#8a1a0a" stroke-width="0.9" />
<rect x="562.80" y="208.00" width="1.8" height="1.8" fill="#a06a6a"/>
<line x1="572.40" y1="194.60" x2="572.40" y2="235.00" stroke="#444" stroke-width="0.8" />
<line x1="572.40" y1="271.80" x2="572.40" y2="288.30" stroke="#444" stroke-width="0.8" />
<line x1="570.50" y1="194.60" x2="574.30" y2="194.60" stroke="#333" stroke-width="0.9" />
<line x1="570.50" y1="288.30" x2="574.30" y2="288.30" stroke="#333" stroke-width="0.9" />
<rect x="568.50" y="235.00" width="7.80" height="36.80" fill="#5c5c5c" stroke="#222" stroke-width="0.7"/>
<line x1="568.50" y1="257.80" x2="576.30" y2="257.80" stroke="#222222" stroke-width="0.9" />
<line x1="581.50" y1="186.20" x2="581.50" y2="233.50" stroke="#444" stroke-width="0.8" />
<line x1="581.50" y1="266.50" x2="581.50" y2="279.60" stroke="#444" stroke-width="0.8" />
<line x1="579.60" y1="186.20" x2="583.40" y2="186.20" stroke="#333" stroke-width="0.9" />
<line x1="579.60" y1="279.60" x2="583.40" y2="279.60" stroke="#333" stroke-width="0.9" />
<rect x="577.60" y="233.50" width="7.80" height="33.00" fill="#cfcfcf" stroke="#222" stroke-width="0.7"/>
<line x1="577.60" y1="254.10" x2="585.40" y2="254.10" stroke="#444444" stroke-width="0.9" />
<line x1="607.90" y1="262.50" x2="607.90" y2="275.90" stroke="#444" stroke-width="0.8" />
<line x1="607.90" y1="286.50" x2="607.90" y2="288.00" stroke="#444" stroke-width="0.8" />
<line x1="606.00" y1="262.50" x2="609.80" y2="262.50" stroke="#333" stroke-width="0.9" />
<line x1="606.00" y1="288.00" x2="609.80" y2="288.00" stroke="#333" stroke-width="0.9" />
<rect x="604.00" y="275.90" width="7.80" height="10.60" fill="#dc2a0a" stroke="#222" stroke-width="0.7"/>
<line x1="604.00" y1="282.10" x2="611.80" y2="282.10" stroke="#8a1a0a" stroke-width="0.9" />
<rect x="607.00" y="249.10" width="1.8" height="1.8" fill="#a06a6a"/>
<line x1="616.95" y1="261.50" x2="616.95" y2="268.10" stroke="#444" stroke-width="0.8" />
<line x1="616.95" y1="282.70" x2="616.95" y2="290.50" stroke="#444" stroke-width="0.8" />
<line x1="615.05" y1="261.50" x2="618.85" y2="261.50" stroke="#333" stroke-width="0.9" />
<line x1="615.05" y1="290.50" x2="618.85" y2="290.50" stroke="#333" stroke-width="0.9" />
<rect x="613.40" y="268.10" width="7.10" height="14.60" fill="#5c5c5c" stroke="#222" stroke-width="0.7"/>
<line x1="613.40" y1="278.00" x2="620.50" y2="278.00" stroke="#222222" stroke-width="0.9" />
<rect x="616.05" y="224.20" width="1.8" height="1.8" fill="#a06a6a"/>
<rect x="616.05" y="238.20" width="1.8" height="1.8" fill="#a06a6a"/>
<rect x="616.05" y="242.90" width="1.8" height="1.8" fill="#a06a6a"/>
<line x1="626.00" y1="244.40" x2="626.00" y2="266.20" stroke="#444" stroke-width="0.8" />
<line x1="626.00" y1="283.70" x2="626.00" y2="291.10" stroke="#444" stroke-width="0.8" />
<line x1="624.10" y1="244.40" x2="627.90" y2="244.40" stroke="#333" stroke-width="0.9" />
<line x1="624.10" y1="291.10" x2="627.90" y2="291.10" stroke="#333" stroke-width="0.9" />
<rect x="622.10" y="266.20" width="7.80" height="17.50" fill="#cfcfcf" stroke="#222" stroke-width="0.7"/>
<line x1="622.10" y1="275.90" x2="629.90" y2="275.90" stroke="#444444" stroke-width="0.9" />
<line x1="653.10" y1="182.40" x2="653.10" y2="202.40" stroke="#444" stroke-width="0.8" />
<line x1="653.10" y1="253.10" x2="653.10" y2="264.70" stroke="#444" stroke-width="0.8" />
<line x1="651.20" y1="182.40" x2="655.00" y2="182.40" stroke="#333" stroke-width="0.9" />
<line x1="651.20" y1="264.70" x2="655.00" y2="264.70" stroke="#333" stroke-width="0.9" />
<rect x="649.20" y="202.40" width="7.80" height="50.70" fill="#dc2a0a" stroke="#222" stroke-width="0.7"/>
<line x1="649.20" y1="225.10" x2="657.00" y2="225.10" stroke="#8a1a0a" stroke-width="0.9" />
<line x1="661.80" y1="208.00" x2="661.80" y2="238.20" stroke="#444" stroke-width="0.8" />
<line x1="661.80" y1="275.90" x2="661.80" y2="288.30" stroke="#444" stroke-width="0.8" />
<line x1="659.90" y1="208.00" x2="663.70" y2="208.00" stroke="#333" stroke-width="0.9" />
<line x1="659.90" y1="288.30" x2="663.70" y2="288.30" stroke="#333" stroke-width="0.9" />
<rect x="657.90" y="238.20" width="7.80" height="37.70" fill="#5c5c5c" stroke="#222" stroke-width="0.7"/>
<line x1="657.90" y1="266.50" x2="665.70" y2="266.50" stroke="#222222" stroke-width="0.9" />
<line x1="670.85" y1="224.20" x2="670.85" y2="254.10" stroke="#444" stroke-width="0.8" />
<line x1="670.85" y1="280.20" x2="670.85" y2="287.40" stroke="#444" stroke-width="0.8" />
<line x1="668.95" y1="224.20" x2="672.75" y2="224.20" stroke="#333" stroke-width="0.9" />
<line x1="668.95" y1="287.40" x2="672.75" y2="287.40" stroke="#333" stroke-width="0.9" />
<rect x="667.00" y="254.10" width="7.70" height="26.10" fill="#cfcfcf" stroke="#222" stroke-width="0.7"/>
<line x1="667.00" y1="267.80" x2="674.70" y2="267.80" stroke="#444444" stroke-width="0.9" />
<rect x="669.95" y="201.50" width="1.8" height="1.8" fill="#a06a6a"/>
<rect x="669.95" y="210.20" width="1.8" height="1.8" fill="#a06a6a"/>
<path d="M515.00,177.40 V175.60 H541.50 V177.40" fill="none" stroke="#333" stroke-width="1.2"/>
<path d="M528.60,167.70 L528.60,163.30 M528.60,167.70 L532.78,166.34 M528.60,167.70 L524.42,166.34 M528.60,167.70 L531.19,171.26 M528.60,167.70 L526.01,171.26 " stroke="#d22c1b" stroke-width="2.3" stroke-linecap="butt" fill="none"/>
<path d="M560.40,177.50 V175.70 H586.50 V177.50" fill="none" stroke="#333" stroke-width="1.2"/>
<path d="M573.80,168.00 L573.80,163.60 M573.80,168.00 L577.98,166.64 M573.80,168.00 L569.62,166.64 M573.80,168.00 L576.39,171.56 M573.80,168.00 L571.21,171.56 " stroke="#d22c1b" stroke-width="2.3" stroke-linecap="butt" fill="none"/>
<path d="M647.30,178.50 V176.70 H673.60 V178.50" fill="none" stroke="#333" stroke-width="1.2"/>
<path d="M655.50,169.70 L655.50,165.30 M655.50,169.70 L659.68,168.34 M655.50,169.70 L651.32,168.34 M655.50,169.70 L658.09,173.26 M655.50,169.70 L652.91,173.26 " stroke="#d22c1b" stroke-width="2.3" stroke-linecap="butt" fill="none"/>
<path d="M667.40,169.70 L667.40,165.30 M667.40,169.70 L671.58,168.34 M667.40,169.70 L663.22,168.34 M667.40,169.70 L669.99,173.26 M667.40,169.70 L664.81,173.26 " stroke="#d22c1b" stroke-width="2.3" stroke-linecap="butt" fill="none"/>
<line x1="425.65" y1="389.40" x2="425.65" y2="394.50" stroke="#444" stroke-width="0.8" />
<line x1="425.65" y1="423.20" x2="425.65" y2="430.60" stroke="#444" stroke-width="0.8" />
<line x1="423.75" y1="389.40" x2="427.55" y2="389.40" stroke="#333" stroke-width="0.9" />
<line x1="423.75" y1="430.60" x2="427.55" y2="430.60" stroke="#333" stroke-width="0.9" />
<rect x="421.60" y="394.50" width="8.10" height="28.70" fill="#000000" stroke="#222" stroke-width="0.7"/>
<line x1="421.60" y1="412.90" x2="429.70" y2="412.90" stroke="#3c3c3c" stroke-width="0.9" />
<line x1="435.00" y1="420.30" x2="435.00" y2="422.60" stroke="#444" stroke-width="0.8" />
<line x1="435.00" y1="428.40" x2="435.00" y2="429.00" stroke="#444" stroke-width="0.8" />
<line x1="433.10" y1="420.30" x2="436.90" y2="420.30" stroke="#333" stroke-width="0.9" />
<line x1="433.10" y1="429.00" x2="436.90" y2="429.00" stroke="#333" stroke-width="0.9" />
<rect x="431.30" y="422.60" width="7.40" height="5.80" fill="#dc2a0a" stroke="#222" stroke-width="0.7"/>
<line x1="431.30" y1="426.80" x2="438.70" y2="426.80" stroke="#8a1a0a" stroke-width="0.9" />
<line x1="433.60" y1="385.50" x2="436.40" y2="385.50" stroke="#b8585e" stroke-width="0.7" />
<line x1="435.00" y1="384.10" x2="435.00" y2="386.90" stroke="#b8585e" stroke-width="0.7" />
<line x1="433.60" y1="409.00" x2="436.40" y2="409.00" stroke="#b8585e" stroke-width="0.7" />
<line x1="435.00" y1="407.60" x2="435.00" y2="410.40" stroke="#b8585e" stroke-width="0.7" />
<line x1="443.70" y1="393.50" x2="443.70" y2="406.50" stroke="#444" stroke-width="0.8" />
<line x1="443.70" y1="426.50" x2="443.70" y2="430.60" stroke="#444" stroke-width="0.8" />
<line x1="441.80" y1="393.50" x2="445.60" y2="393.50" stroke="#333" stroke-width="0.9" />
<line x1="441.80" y1="430.60" x2="445.60" y2="430.60" stroke="#333" stroke-width="0.9" />
<rect x="440.00" y="406.50" width="7.40" height="20.00" fill="#5c5c5c" stroke="#222" stroke-width="0.7"/>
<line x1="440.00" y1="421.00" x2="447.40" y2="421.00" stroke="#222222" stroke-width="0.9" />
<line x1="442.30" y1="359.70" x2="445.10" y2="359.70" stroke="#b8585e" stroke-width="0.7" />
<line x1="443.70" y1="358.30" x2="443.70" y2="361.10" stroke="#b8585e" stroke-width="0.7" />
<line x1="442.30" y1="368.40" x2="445.10" y2="368.40" stroke="#b8585e" stroke-width="0.7" />
<line x1="443.70" y1="367.00" x2="443.70" y2="369.80" stroke="#b8585e" stroke-width="0.7" />
<line x1="452.25" y1="378.40" x2="452.25" y2="404.20" stroke="#444" stroke-width="0.8" />
<line x1="452.25" y1="428.40" x2="452.25" y2="432.90" stroke="#444" stroke-width="0.8" />
<line x1="450.35" y1="378.40" x2="454.15" y2="378.40" stroke="#333" stroke-width="0.9" />
<line x1="450.35" y1="432.90" x2="454.15" y2="432.90" stroke="#333" stroke-width="0.9" />
<rect x="448.40" y="404.20" width="7.70" height="24.20" fill="#cfcfcf" stroke="#222" stroke-width="0.7"/>
<line x1="448.40" y1="418.40" x2="456.10" y2="418.40" stroke="#444444" stroke-width="0.9" />
<line x1="450.85" y1="353.90" x2="453.65" y2="353.90" stroke="#b8585e" stroke-width="0.7" />
<line x1="452.25" y1="352.50" x2="452.25" y2="355.30" stroke="#b8585e" stroke-width="0.7" />
<line x1="470.00" y1="387.70" x2="470.00" y2="407.10" stroke="#444" stroke-width="0.8" />
<line x1="470.00" y1="421.00" x2="470.00" y2="428.40" stroke="#444" stroke-width="0.8" />
<line x1="468.10" y1="387.70" x2="471.90" y2="387.70" stroke="#333" stroke-width="0.9" />
<line x1="468.10" y1="428.40" x2="471.90" y2="428.40" stroke="#333" stroke-width="0.9" />
<rect x="466.10" y="407.10" width="7.80" height="13.90" fill="#000000" stroke="#222" stroke-width="0.7"/>
<line x1="466.10" y1="410.60" x2="473.90" y2="410.60" stroke="#3c3c3c" stroke-width="0.9" />
<line x1="479.20" y1="402.60" x2="479.20" y2="414.50" stroke="#444" stroke-width="0.8" />
<line x1="479.20" y1="424.20" x2="479.20" y2="427.40" stroke="#444" stroke-width="0.8" />
<line x1="477.30" y1="402.60" x2="481.10" y2="402.60" stroke="#333" stroke-width="0.9" />
<line x1="477.30" y1="427.40" x2="481.10" y2="427.40" stroke="#333" stroke-width="0.9" />
<rect x="475.50" y="414.50" width="7.40" height="9.70" fill="#dc2a0a" stroke="#222" stroke-width="0.7"/>
<line x1="475.50" y1="418.70" x2="482.90" y2="418.70" stroke="#8a1a0a" stroke-width="0.9" />
<line x1="488.20" y1="376.80" x2="488.20" y2="400.60" stroke="#444" stroke-width="0.8" />
<line x1="488.20" y1="423.20" x2="488.20" y2="427.40" stroke="#444" stroke-width="0.8" />
<line x1="486.30" y1="376.80" x2="490.10" y2="376.80" stroke="#333" stroke-width="0.9" />
<line x1="486.30" y1="427.40" x2="490.10" y2="427.40" stroke="#333" stroke-width="0.9" />
<rect x="484.50" y="400.60" width="7.40" height="22.60" fill="#5c5c5c" stroke="#222" stroke-width="0.7"/>
<line x1="484.50" y1="408.70" x2="491.90" y2="408.70" stroke="#222222" stroke-width="0.9" />
<line x1="486.80" y1="363.50" x2="489.60" y2="363.50" stroke="#b8585e" stroke-width="0.7" />
<line x1="488.20" y1="362.10" x2="488.20" y2="364.90" stroke="#b8585e" stroke-width="0.7" />
<line x1="496.60" y1="377.40" x2="496.60" y2="405.80" stroke="#444" stroke-width="0.8" />
<line x1="496.60" y1="425.80" x2="496.60" y2="432.30" stroke="#444" stroke-width="0.8" />
<line x1="494.70" y1="377.40" x2="498.50" y2="377.40" stroke="#333" stroke-width="0.9" />
<line x1="494.70" y1="432.30" x2="498.50" y2="432.30" stroke="#333" stroke-width="0.9" />
<rect x="492.60" y="405.80" width="8.00" height="20.00" fill="#cfcfcf" stroke="#222" stroke-width="0.7"/>
<line x1="492.60" y1="412.30" x2="500.60" y2="412.30" stroke="#444444" stroke-width="0.9" />
<line x1="495.20" y1="376.80" x2="498.00" y2="376.80" stroke="#b8585e" stroke-width="0.7" />
<line x1="496.60" y1="375.40" x2="496.60" y2="378.20" stroke="#b8585e" stroke-width="0.7" />
<line x1="514.20" y1="381.30" x2="514.20" y2="395.80" stroke="#444" stroke-width="0.8" />
<line x1="514.20" y1="414.50" x2="514.20" y2="421.90" stroke="#444" stroke-width="0.8" />
<line x1="512.30" y1="381.30" x2="516.10" y2="381.30" stroke="#333" stroke-width="0.9" />
<line x1="512.30" y1="421.90" x2="516.10" y2="421.90" stroke="#333" stroke-width="0.9" />
<rect x="510.30" y="395.80" width="7.80" height="18.70" fill="#000000" stroke="#222" stroke-width="0.7"/>
<line x1="510.30" y1="409.70" x2="518.10" y2="409.70" stroke="#3c3c3c" stroke-width="0.9" />
<line x1="523.40" y1="350.00" x2="523.40" y2="393.50" stroke="#444" stroke-width="0.8" />
<line x1="523.40" y1="421.90" x2="523.40" y2="429.00" stroke="#444" stroke-width="0.8" />
<line x1="521.50" y1="350.00" x2="525.30" y2="350.00" stroke="#333" stroke-width="0.9" />
<line x1="521.50" y1="429.00" x2="525.30" y2="429.00" stroke="#333" stroke-width="0.9" />
<rect x="519.70" y="393.50" width="7.40" height="28.40" fill="#dc2a0a" stroke="#222" stroke-width="0.7"/>
<line x1="519.70" y1="409.70" x2="527.10" y2="409.70" stroke="#8a1a0a" stroke-width="0.9" />
<line x1="532.40" y1="368.40" x2="532.40" y2="389.70" stroke="#444" stroke-width="0.8" />
<line x1="532.40" y1="408.70" x2="532.40" y2="425.80" stroke="#444" stroke-width="0.8" />
<line x1="530.50" y1="368.40" x2="534.30" y2="368.40" stroke="#333" stroke-width="0.9" />
<line x1="530.50" y1="425.80" x2="534.30" y2="425.80" stroke="#333" stroke-width="0.9" />
<rect x="528.70" y="389.70" width="7.40" height="19.00" fill="#5c5c5c" stroke="#222" stroke-width="0.7"/>
<line x1="528.70" y1="401.60" x2="536.10" y2="401.60" stroke="#222222" stroke-width="0.9" />
<line x1="541.10" y1="358.70" x2="541.10" y2="392.90" stroke="#444" stroke-width="0.8" />
<line x1="541.10" y1="416.10" x2="541.10" y2="428.10" stroke="#444" stroke-width="0.8" />
<line x1="539.20" y1="358.70" x2="543.00" y2="358.70" stroke="#333" stroke-width="0.9" />
<line x1="539.20" y1="428.10" x2="543.00" y2="428.10" stroke="#333" stroke-width="0.9" />
<rect x="537.40" y="392.90" width="7.40" height="23.20" fill="#cfcfcf" stroke="#222" stroke-width="0.7"/>
<line x1="537.40" y1="402.60" x2="544.80" y2="402.60" stroke="#444444" stroke-width="0.9" />
<line x1="539.70" y1="340.30" x2="542.50" y2="340.30" stroke="#b8585e" stroke-width="0.7" />
<line x1="541.10" y1="338.90" x2="541.10" y2="341.70" stroke="#b8585e" stroke-width="0.7" />
<line x1="539.70" y1="351.60" x2="542.50" y2="351.60" stroke="#b8585e" stroke-width="0.7" />
<line x1="541.10" y1="350.20" x2="541.10" y2="353.00" stroke="#b8585e" stroke-width="0.7" />
<line x1="558.90" y1="380.00" x2="558.90" y2="394.50" stroke="#444" stroke-width="0.8" />
<line x1="558.90" y1="417.70" x2="558.90" y2="422.60" stroke="#444" stroke-width="0.8" />
<line x1="557.00" y1="380.00" x2="560.80" y2="380.00" stroke="#333" stroke-width="0.9" />
<line x1="557.00" y1="422.60" x2="560.80" y2="422.60" stroke="#333" stroke-width="0.9" />
<rect x="555.20" y="394.50" width="7.40" height="23.20" fill="#000000" stroke="#222" stroke-width="0.7"/>
<line x1="555.20" y1="403.90" x2="562.60" y2="403.90" stroke="#3c3c3c" stroke-width="0.9" />
<line x1="567.90" y1="376.80" x2="567.90" y2="383.20" stroke="#444" stroke-width="0.8" />
<line x1="567.90" y1="420.00" x2="567.90" y2="430.60" stroke="#444" stroke-width="0.8" />
<line x1="566.00" y1="376.80" x2="569.80" y2="376.80" stroke="#333" stroke-width="0.9" />
<line x1="566.00" y1="430.60" x2="569.80" y2="430.60" stroke="#333" stroke-width="0.9" />
<rect x="564.20" y="383.20" width="7.40" height="36.80" fill="#dc2a0a" stroke="#222" stroke-width="0.7"/>
<line x1="564.20" y1="400.00" x2="571.60" y2="400.00" stroke="#8a1a0a" stroke-width="0.9" />
<line x1="576.60" y1="342.90" x2="576.60" y2="379.00" stroke="#444" stroke-width="0.8" />
<line x1="576.60" y1="409.70" x2="576.60" y2="426.50" stroke="#444" stroke-width="0.8" />
<line x1="574.70" y1="342.90" x2="578.50" y2="342.90" stroke="#333" stroke-width="0.9" />
<line x1="574.70" y1="426.50" x2="578.50" y2="426.50" stroke="#333" stroke-width="0.9" />
<rect x="572.90" y="379.00" width="7.40" height="30.70" fill="#5c5c5c" stroke="#222" stroke-width="0.7"/>
<line x1="572.90" y1="395.20" x2="580.30" y2="395.20" stroke="#222222" stroke-width="0.9" />
<line x1="575.20" y1="321.00" x2="578.00" y2="321.00" stroke="#b8585e" stroke-width="0.7" />
<line x1="576.60" y1="319.60" x2="576.60" y2="322.40" stroke="#b8585e" stroke-width="0.7" />
<line x1="585.65" y1="367.10" x2="585.65" y2="388.10" stroke="#444" stroke-width="0.8" />
<line x1="585.65" y1="411.90" x2="585.65" y2="431.30" stroke="#444" stroke-width="0.8" />
<line x1="583.75" y1="367.10" x2="587.55" y2="367.10" stroke="#333" stroke-width="0.9" />
<line x1="583.75" y1="431.30" x2="587.55" y2="431.30" stroke="#333" stroke-width="0.9" />
<rect x="581.90" y="388.10" width="7.50" height="23.80" fill="#cfcfcf" stroke="#222" stroke-width="0.7"/>
<line x1="581.90" y1="399.40" x2="589.40" y2="399.40" stroke="#444444" stroke-width="0.9" />
<line x1="584.25" y1="341.90" x2="587.05" y2="341.90" stroke="#b8585e" stroke-width="0.7" />
<line x1="585.65" y1="340.50" x2="585.65" y2="343.30" stroke="#b8585e" stroke-width="0.7" />
<line x1="602.90" y1="366.20" x2="602.90" y2="396.00" stroke="#444" stroke-width="0.8" />
<line x1="602.90" y1="419.50" x2="602.90" y2="422.10" stroke="#444" stroke-width="0.8" />
<line x1="601.00" y1="366.20" x2="604.80" y2="366.20" stroke="#333" stroke-width="0.9" />
<line x1="601.00" y1="422.10" x2="604.80" y2="422.10" stroke="#333" stroke-width="0.9" />
<rect x="599.00" y="396.00" width="7.80" height="23.50" fill="#000000" stroke="#222" stroke-width="0.7"/>
<line x1="599.00" y1="413.10" x2="606.80" y2="413.10" stroke="#3c3c3c" stroke-width="0.9" />
<line x1="612.10" y1="395.30" x2="612.10" y2="410.80" stroke="#444" stroke-width="0.8" />
<line x1="612.10" y1="425.40" x2="612.10" y2="431.80" stroke="#444" stroke-width="0.8" />
<line x1="610.20" y1="395.30" x2="614.00" y2="395.30" stroke="#333" stroke-width="0.9" />
<line x1="610.20" y1="431.80" x2="614.00" y2="431.80" stroke="#333" stroke-width="0.9" />
<rect x="608.40" y="410.80" width="7.40" height="14.60" fill="#dc2a0a" stroke="#222" stroke-width="0.7"/>
<line x1="608.40" y1="416.30" x2="615.80" y2="416.30" stroke="#8a1a0a" stroke-width="0.9" />
<line x1="621.20" y1="400.80" x2="621.20" y2="412.40" stroke="#444" stroke-width="0.8" />
<line x1="621.20" y1="423.70" x2="621.20" y2="429.20" stroke="#444" stroke-width="0.8" />
<line x1="619.30" y1="400.80" x2="623.10" y2="400.80" stroke="#333" stroke-width="0.9" />
<line x1="619.30" y1="429.20" x2="623.10" y2="429.20" stroke="#333" stroke-width="0.9" />
<rect x="617.50" y="412.40" width="7.40" height="11.30" fill="#5c5c5c" stroke="#222" stroke-width="0.7"/>
<line x1="617.50" y1="417.90" x2="624.90" y2="417.90" stroke="#222222" stroke-width="0.9" />
<line x1="619.80" y1="386.60" x2="622.60" y2="386.60" stroke="#b8585e" stroke-width="0.7" />
<line x1="621.20" y1="385.20" x2="621.20" y2="388.00" stroke="#b8585e" stroke-width="0.7" />
<line x1="619.80" y1="390.50" x2="622.60" y2="390.50" stroke="#b8585e" stroke-width="0.7" />
<line x1="621.20" y1="389.10" x2="621.20" y2="391.90" stroke="#b8585e" stroke-width="0.7" />
<line x1="629.90" y1="398.50" x2="629.90" y2="410.80" stroke="#444" stroke-width="0.8" />
<line x1="629.90" y1="425.40" x2="629.90" y2="434.10" stroke="#444" stroke-width="0.8" />
<line x1="628.00" y1="398.50" x2="631.80" y2="398.50" stroke="#333" stroke-width="0.9" />
<line x1="628.00" y1="434.10" x2="631.80" y2="434.10" stroke="#333" stroke-width="0.9" />
<rect x="626.20" y="410.80" width="7.40" height="14.60" fill="#cfcfcf" stroke="#222" stroke-width="0.7"/>
<line x1="626.20" y1="419.50" x2="633.60" y2="419.50" stroke="#444444" stroke-width="0.9" />
<line x1="647.35" y1="391.40" x2="647.35" y2="396.90" stroke="#444" stroke-width="0.8" />
<line x1="647.35" y1="423.40" x2="647.35" y2="426.00" stroke="#444" stroke-width="0.8" />
<line x1="645.45" y1="391.40" x2="649.25" y2="391.40" stroke="#333" stroke-width="0.9" />
<line x1="645.45" y1="426.00" x2="649.25" y2="426.00" stroke="#333" stroke-width="0.9" />
<rect x="643.30" y="396.90" width="8.10" height="26.50" fill="#000000" stroke="#222" stroke-width="0.7"/>
<line x1="643.30" y1="417.00" x2="651.40" y2="417.00" stroke="#3c3c3c" stroke-width="0.9" />
<line x1="656.25" y1="323.30" x2="656.25" y2="380.80" stroke="#444" stroke-width="0.8" />
<line x1="656.25" y1="418.60" x2="656.25" y2="430.90" stroke="#444" stroke-width="0.8" />
<line x1="654.35" y1="323.30" x2="658.15" y2="323.30" stroke="#333" stroke-width="0.9" />
<line x1="654.35" y1="430.90" x2="658.15" y2="430.90" stroke="#333" stroke-width="0.9" />
<rect x="652.40" y="380.80" width="7.70" height="37.80" fill="#dc2a0a" stroke="#222" stroke-width="0.7"/>
<line x1="652.40" y1="394.70" x2="660.10" y2="394.70" stroke="#8a1a0a" stroke-width="0.9" />
<line x1="664.95" y1="361.40" x2="664.95" y2="399.20" stroke="#444" stroke-width="0.8" />
<line x1="664.95" y1="426.00" x2="664.95" y2="432.50" stroke="#444" stroke-width="0.8" />
<line x1="663.05" y1="361.40" x2="666.85" y2="361.40" stroke="#333" stroke-width="0.9" />
<line x1="663.05" y1="432.50" x2="666.85" y2="432.50" stroke="#333" stroke-width="0.9" />
<rect x="661.10" y="399.20" width="7.70" height="26.80" fill="#5c5c5c" stroke="#222" stroke-width="0.7"/>
<line x1="661.10" y1="413.70" x2="668.80" y2="413.70" stroke="#222222" stroke-width="0.9" />
<line x1="663.55" y1="355.60" x2="666.35" y2="355.60" stroke="#b8585e" stroke-width="0.7" />
<line x1="664.95" y1="354.20" x2="664.95" y2="357.00" stroke="#b8585e" stroke-width="0.7" />
<line x1="674.00" y1="369.50" x2="674.00" y2="394.30" stroke="#444" stroke-width="0.8" />
<line x1="674.00" y1="416.30" x2="674.00" y2="432.50" stroke="#444" stroke-width="0.8" />
<line x1="672.10" y1="369.50" x2="675.90" y2="369.50" stroke="#333" stroke-width="0.9" />
<line x1="672.10" y1="432.50" x2="675.90" y2="432.50" stroke="#333" stroke-width="0.9" />
<rect x="670.10" y="394.30" width="7.80" height="22.00" fill="#cfcfcf" stroke="#222" stroke-width="0.7"/>
<line x1="670.10" y1="406.00" x2="677.90" y2="406.00" stroke="#444444" stroke-width="0.9" />
<line x1="672.60" y1="328.40" x2="675.40" y2="328.40" stroke="#b8585e" stroke-width="0.7" />
<line x1="674.00" y1="327.00" x2="674.00" y2="329.80" stroke="#b8585e" stroke-width="0.7" />
<line x1="672.60" y1="341.40" x2="675.40" y2="341.40" stroke="#b8585e" stroke-width="0.7" />
<line x1="674.00" y1="340.00" x2="674.00" y2="342.80" stroke="#b8585e" stroke-width="0.7" />
<line x1="672.60" y1="349.10" x2="675.40" y2="349.10" stroke="#b8585e" stroke-width="0.7" />
<line x1="674.00" y1="347.70" x2="674.00" y2="350.50" stroke="#b8585e" stroke-width="0.7" />
<line x1="672.60" y1="351.70" x2="675.40" y2="351.70" stroke="#b8585e" stroke-width="0.7" />
<line x1="674.00" y1="350.30" x2="674.00" y2="353.10" stroke="#b8585e" stroke-width="0.7" />
</svg></body></html>
